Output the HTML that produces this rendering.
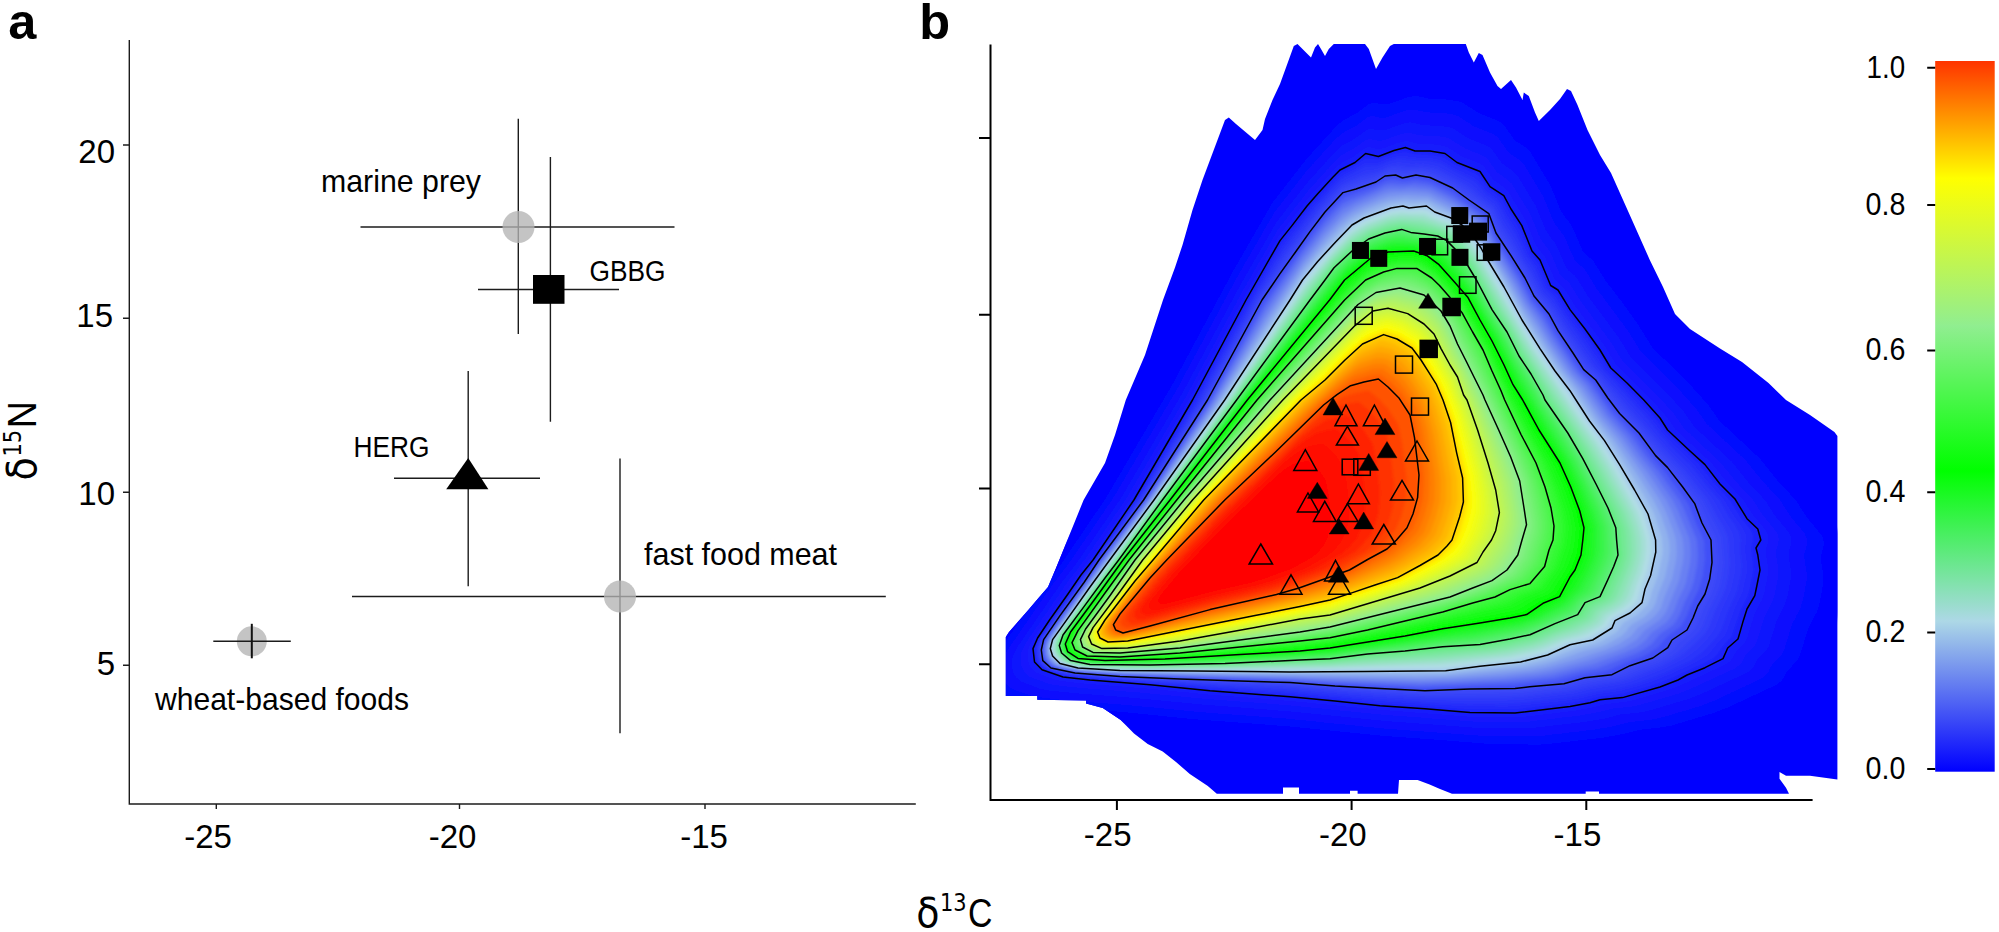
<!DOCTYPE html>
<html><head><meta charset="utf-8"><title>Figure</title>
<style>
html,body{margin:0;padding:0;background:#fff;}
body{width:1999px;height:932px;overflow:hidden;}
svg{display:block;}
text{font-family:"Liberation Sans",sans-serif;fill:#000;}
.t{font-size:33px;}
.cb{font-size:31.5px;}
.lab{font-size:31.5px;}
.cap{font-size:29.8px;}
.ax{font-size:40px;}
.sup{font-size:24px;font-family:"DejaVu Sans","Liberation Sans",sans-serif;}
.gk{font-size:41.5px;font-family:"DejaVu Sans","Liberation Sans",sans-serif;}
.pl{font-size:50.5px;font-weight:bold;}
</style></head>
<body>
<svg width="1999" height="932" viewBox="0 0 1999 932">
<defs>
<clipPath id="clipb"><path d="M1005.8 696L1005.8 637L1009 632L1019.5 620L1030 608L1037.6 599L1048 587L1055.6 569L1059.3 560L1083.6 500L1105 463L1115 435L1125.8 400L1145 355L1163 300L1175 267.5L1182.5 245L1192.5 210L1202.5 180L1210 160L1217.5 140L1225 120L1228.8 117.5L1236 124L1255 140L1262.5 130L1265 119L1272.5 100L1280 84L1286 67.5L1293.8 46L1297.5 44L1301 47.5L1311 57.5L1315 47.5L1318 44L1321 49L1325 56L1328.8 49L1333.8 44L1365 44L1368.8 49L1376 69L1382.5 57.5L1390 46L1393.8 44L1465.8 44L1468.8 52.5L1473.8 62.5L1478.8 53L1482.5 55L1490 72.5L1497.5 86L1501 89L1511 80L1516 87.5L1522.5 100L1523.8 92.5L1528.8 96L1535 112.5L1538.8 121L1550 110L1560 99L1567 89L1571 91L1577.5 105L1587.5 130L1600 155L1611 173L1632 220L1649.8 260L1663 287L1675 314L1690 329L1720 348.6L1742 362L1768.5 383L1786 400L1810 415L1834.4 432L1837.4 436L1837.4 779.4L1810 775.7L1786 775.7L1779.5 772L1779.5 778.7L1786 787.7L1789 793.7L1599 793.7L1599 791.4L1585.7 791.4L1585.7 793.7L1452 793.7L1440 789L1429.6 784.5L1417.6 780L1399 780L1398 793.7L1357.6 793.7L1357.6 790.7L1350 790.7L1350 793.7L1299 793.7L1299 787.5L1283 787.5L1283 793.7L1216.8 793.7L1207.8 786L1189.8 774L1176 762L1162.7 751.6L1147.7 744L1134 733.6L1120.7 720L1102.7 708L1086 703.6L1086 700.6L1037.3 699.8L1037.3 696Z"/></clipPath>
<filter id="bl" x="-5%" y="-5%" width="110%" height="110%"><feGaussianBlur stdDeviation="1.6"/></filter>
<linearGradient id="cbg" x1="0" y1="0" x2="0" y2="1"><stop offset="0.000" stop-color="#ff3400"/><stop offset="0.165" stop-color="#ffff00"/><stop offset="0.373" stop-color="#90ee90"/><stop offset="0.577" stop-color="#00ff00"/><stop offset="0.788" stop-color="#add8e6"/><stop offset="1.000" stop-color="#0000ff"/></linearGradient>
</defs>
<rect width="1999" height="932" fill="#fff"/>

<!-- panel a -->
<text class="pl" x="8.2" y="38.8">a</text>
<g stroke="#1c1c1c" stroke-width="1.4" fill="none">
<path d="M129.3 40V804H915.8"/>
<path d="M123 145H129.3M123 318.3H129.3M123 492.2H129.3M123 665.3H129.3"/>
<path d="M216.3 804V809M459.5 804V809M705 804V809"/>
<path d="M518.3 118.8V334M360.5 227H674.5"/>
<path d="M550.4 157V421.8M478 289.5H619"/>
<path d="M468.2 371V586.3M394 478.3H540"/>
<path d="M620 458.5V733.3M352 596.5H885.8"/>
</g>
<circle cx="518.5" cy="227" r="16" fill="#b4b4b4" fill-opacity="0.78"/>
<circle cx="620" cy="596.5" r="16" fill="#b4b4b4" fill-opacity="0.78"/>
<circle cx="251.8" cy="641.3" r="15" fill="#b4b4b4" fill-opacity="0.78"/>
<path d="M213.3 641.3H290.8" stroke="#1c1c1c" stroke-width="1.4" fill="none"/>
<path d="M251.8 623.8V658.3" stroke="#111" stroke-width="2" fill="none"/>
<rect x="533" y="275" width="31.5" height="28.8" fill="#000"/>
<path d="M468.2 458L488.4 489.3H446.2Z" fill="#000"/>
<g class="t" text-anchor="end">
<text x="115" y="163.3">20</text>
<text x="113" y="327">15</text>
<text x="115" y="505">10</text>
<text x="115" y="675">5</text>
</g>
<g class="t" text-anchor="middle">
<text x="208" y="847.5">-25</text>
<text x="452.5" y="847.5">-20</text>
<text x="704" y="847.5">-15</text>
</g>
<g class="lab">
<text x="321" y="192.3" textLength="160" lengthAdjust="spacingAndGlyphs">marine prey</text>
<text class="cap" x="589.5" y="281" textLength="76" lengthAdjust="spacingAndGlyphs">GBBG</text>
<text class="cap" x="353.5" y="457.3" textLength="76" lengthAdjust="spacingAndGlyphs">HERG</text>
<text x="644" y="564.5" textLength="193" lengthAdjust="spacingAndGlyphs">fast food meat</text>
<text x="155" y="709.5" textLength="254" lengthAdjust="spacingAndGlyphs">wheat-based foods</text>
</g>
<text class="ax"><tspan class="gk" x="916.2" y="926.5" textLength="23.2" lengthAdjust="spacingAndGlyphs">δ</tspan><tspan class="sup" x="940" y="911" textLength="26.7" lengthAdjust="spacingAndGlyphs">13</tspan><tspan x="968" y="926.5" textLength="24.4" lengthAdjust="spacingAndGlyphs">C</tspan></text>
<text class="ax" transform="translate(36 0) rotate(-90)"><tspan class="gk" x="-480.6" y="0" textLength="23.2" lengthAdjust="spacingAndGlyphs">δ</tspan><tspan class="sup" x="-456.5" y="-15.3" textLength="26.7" lengthAdjust="spacingAndGlyphs">15</tspan><tspan x="-428.2" y="0" textLength="27.2" lengthAdjust="spacingAndGlyphs">N</tspan></text>

<!-- panel b -->
<text class="pl" x="919.2" y="38.7">b</text>
<path d="M1005.8 696L1005.8 637L1009 632L1019.5 620L1030 608L1037.6 599L1048 587L1055.6 569L1059.3 560L1083.6 500L1105 463L1115 435L1125.8 400L1145 355L1163 300L1175 267.5L1182.5 245L1192.5 210L1202.5 180L1210 160L1217.5 140L1225 120L1228.8 117.5L1236 124L1255 140L1262.5 130L1265 119L1272.5 100L1280 84L1286 67.5L1293.8 46L1297.5 44L1301 47.5L1311 57.5L1315 47.5L1318 44L1321 49L1325 56L1328.8 49L1333.8 44L1365 44L1368.8 49L1376 69L1382.5 57.5L1390 46L1393.8 44L1465.8 44L1468.8 52.5L1473.8 62.5L1478.8 53L1482.5 55L1490 72.5L1497.5 86L1501 89L1511 80L1516 87.5L1522.5 100L1523.8 92.5L1528.8 96L1535 112.5L1538.8 121L1550 110L1560 99L1567 89L1571 91L1577.5 105L1587.5 130L1600 155L1611 173L1632 220L1649.8 260L1663 287L1675 314L1690 329L1720 348.6L1742 362L1768.5 383L1786 400L1810 415L1834.4 432L1837.4 436L1837.4 779.4L1810 775.7L1786 775.7L1779.5 772L1779.5 778.7L1786 787.7L1789 793.7L1599 793.7L1599 791.4L1585.7 791.4L1585.7 793.7L1452 793.7L1440 789L1429.6 784.5L1417.6 780L1399 780L1398 793.7L1357.6 793.7L1357.6 790.7L1350 790.7L1350 793.7L1299 793.7L1299 787.5L1283 787.5L1283 793.7L1216.8 793.7L1207.8 786L1189.8 774L1176 762L1162.7 751.6L1147.7 744L1134 733.6L1120.7 720L1102.7 708L1086 703.6L1086 700.6L1037.3 699.8L1037.3 696Z" fill="#0000ff"/>
<g clip-path="url(#clipb)"><g filter="url(#bl)">
<path d="M1816.4 500L1827.3 517.4L1842.7 535.9L1844.9 540.5L1845.7 545.1L1845.2 549.6L1842.5 558.4L1842.5 562.9L1845 577L1845.3 586.2L1841 608.6L1838.1 617.3L1829.6 633.9L1820.1 664L1817.6 667.9L1807.5 678.5L1803.3 686.4L1800.3 690L1796.2 693.1L1780.8 700.7L1759.8 709.6L1745.9 716.5L1731.2 722.4L1686.1 735.7L1675.8 737.6L1654.4 740L1637.1 744.3L1615.5 748.2L1555.8 755.2L1548.3 755.6L1495.5 754.9L1444.2 750.6L1389.3 746.9L1284.1 736.4L1187 728.9L1115.8 721.8L1043.2 716.1L1014.3 712.9L1005.2 710.9L988.6 705.1L984.9 703.3L979.3 698.4L977.1 695.6L975.6 692.4L974.1 681.4L974.6 677.2L976 672.6L981.2 662.6L994.7 642.3L1030.1 591.7L1048.6 567.6L1095.9 498L1164.9 380.1L1228.6 261.1L1269.7 189.6L1305.1 144.1L1336.8 109.2L1343.9 103.3L1358.3 95.6L1369.8 87L1373.6 85.4L1377.3 85.3L1384.4 86.9L1388 87L1391.8 86.3L1411.8 79.3L1419.7 77.8L1423.5 78.2L1434.5 81L1453.9 81.8L1465.2 83.9L1468.8 85.3L1485.1 96L1506.2 104.3L1509.4 106.4L1512.2 109.2L1522 123.1L1524.8 125.7L1534.1 131.8L1539.5 137.1L1560.2 171.3L1570.8 197.2L1574.5 203.4L1578.9 208.5L1582.8 214.2L1594.2 240.4L1596.2 242.9L1603.8 249.1L1605.8 251.6L1617.8 271L1635.4 294L1652.3 317.6L1666 339.7L1670.5 344.8L1689 362.2L1710 383.8L1725.6 401.4L1736.7 417.2L1778.9 456.8L1797.3 479.6Z" fill="#0303ff"/>
<path d="M1796.1 500L1806.6 516.6L1821.4 534.4L1823.5 538.8L1824.2 543.2L1823.7 547.5L1821.1 556L1821.2 560.3L1823.5 573.8L1823.8 582.6L1819.7 604.1L1816.9 612.4L1808.7 628.3L1799.6 657.1L1797.3 660.9L1787.6 671.1L1783.6 678.7L1780.7 682.1L1776.7 685L1728.6 707.5L1714.5 713.1L1671.3 725.9L1661.4 727.7L1640.9 730L1624.3 734.1L1603.6 737.9L1546.4 744.6L1539.2 744.9L1488.6 744.3L1439.4 740.2L1386.8 736.6L1286 726.5L1192.9 719.4L1124.7 712.6L1055.2 707.1L1027.5 704.1L1018.8 702.1L1002.8 696.6L999.3 694.8L993.9 690.2L990.3 684.4L988.9 673.8L989.4 669.8L990.8 665.4L995.8 655.9L1008.7 636.4L1042.6 587.9L1060.3 564.7L1105.6 498L1171.8 385.1L1232.8 271.1L1272.2 202.5L1306.1 158.9L1336.5 125.5L1343.3 119.9L1357.1 112.5L1368.1 104.2L1371.8 102.7L1375.3 102.5L1382.1 104.1L1385.6 104.2L1389.2 103.6L1408.4 96.8L1416 95.4L1430.1 98.5L1448.7 99.3L1459.6 101.2L1463 102.6L1478.6 112.8L1498.8 120.8L1501.9 122.8L1504.6 125.5L1514 138.8L1516.7 141.3L1525.6 147.1L1530.8 152.2L1550.6 185L1560.8 209.9L1564.3 215.8L1568.6 220.7L1572.3 226.2L1583.2 251.2L1585.1 253.6L1592.4 259.5L1594.3 262L1605.8 280.6L1622.7 302.6L1638.9 325.2L1652 346.4L1656.3 351.3L1674 367.9L1694.2 388.7L1709.1 405.5L1719.8 420.7L1760.2 458.6L1777.8 480.4Z" fill="#0608fe"/>
<path d="M1779.9 500L1790 516.1L1804.3 533.2L1806.3 537.5L1807 541.7L1806.5 545.9L1804 554L1804.1 558.2L1806.4 571.2L1806.7 579.8L1802.7 600.5L1800 608.5L1792.1 623.8L1783.3 651.7L1781 655.3L1771.7 665.1L1767.8 672.4L1765 675.8L1761.2 678.6L1714.7 700.3L1701.1 705.7L1659.4 718L1649.8 719.8L1630 722L1614.1 726L1594.1 729.6L1538.8 736L1483.1 735.8L1384.8 728.4L1287.5 718.6L1197.7 711.7L1131.8 705.2L1064.8 699.9L1038 697L1029.6 695.1L1014.2 689.7L1010.8 688L1005.6 683.5L1002.2 678L1000.8 667.8L1001.3 663.9L1002.6 659.7L1007.4 650.4L1052.6 584.8L1069.7 562.5L1113.4 498.1L1177.3 389.1L1236.2 279L1274.2 212.9L1307 170.8L1336.3 138.5L1342.8 133.1L1356.2 125.9L1366.8 118L1370.3 116.5L1373.7 116.4L1380.3 117.9L1383.7 118L1387.2 117.3L1405.6 110.8L1413 109.5L1426.6 112.4L1444.6 113.2L1455.1 115.1L1458.4 116.4L1473.5 126.3L1493 134L1495.9 135.9L1498.6 138.5L1507.6 151.4L1510.2 153.8L1518.8 159.4L1523.8 164.3L1542.9 195.9L1552.8 219.9L1556.1 225.7L1563.8 235.7L1574.4 259.9L1576.2 262.2L1583.3 267.9L1585.1 270.3L1596.2 288.2L1628.1 331.3L1640.8 351.8L1681.5 392.5L1695.9 408.8L1706.2 423.5L1745.2 460L1762.3 481.1Z" fill="#0a0cfe"/>
<path d="M1765.7 500L1775.5 515.6L1789.3 532.1L1791.3 536.3L1792 540.4L1791.5 544.4L1789.1 552.3L1789.1 556.4L1791.3 568.9L1791.6 577.2L1787.8 597.3L1785.1 605.1L1777.5 619.9L1769 646.9L1766.8 650.4L1757.7 659.9L1754 667L1751.3 670.2L1747.6 673L1702.6 694L1689.4 699.2L1649 711.2L1639.8 712.9L1620.6 715L1605.1 718.9L1585.8 722.3L1532.3 728.6L1478.3 728.4L1383.1 721.2L1288.8 711.7L1201.9 705.1L1138.1 698.7L1073.1 693.6L1047.2 690.7L1039.1 688.9L1020.9 682.1L1015.8 677.7L1012.5 672.4L1011.1 662.5L1011.7 658.7L1012.9 654.7L1017.6 645.7L1061.3 582.1L1077.9 560.5L1120.3 498.2L1182.1 392.6L1239.2 286L1275.9 221.9L1307.7 181.2L1336.1 149.9L1342.4 144.7L1355.3 137.7L1365.6 130L1369 128.6L1372.3 128.5L1378.7 130L1382 130L1385.4 129.4L1403.3 123.1L1410.4 121.8L1423.6 124.7L1441 125.4L1451.1 127.2L1454.3 128.5L1468.9 138L1487.8 145.5L1490.7 147.4L1493.2 149.9L1502 162.4L1512.8 170.2L1517.7 174.9L1536.2 205.5L1545.7 228.8L1549 234.3L1556.5 244L1566.7 267.4L1568.5 269.7L1575.3 275.2L1577.1 277.5L1587.9 294.9L1618.7 336.6L1631 356.4L1670.4 395.9L1684.4 411.6L1694.4 425.9L1732.1 461.3L1748.6 481.7Z" fill="#0e12fd"/>
<path d="M1753.5 500L1763.1 515.1L1776.5 531.2L1778.4 535.3L1779.1 539.3L1778.6 543.2L1776.3 550.8L1776.3 554.8L1778.5 567L1778.7 575.1L1775 594.6L1772.4 602.1L1765 616.6L1756.8 642.8L1754.6 646.2L1745.8 655.5L1742.1 662.3L1739.5 665.5L1736 668.2L1692.2 688.5L1679.4 693.7L1640.1 705.3L1631.1 707L1612.5 709L1597.5 712.7L1578.6 716.1L1526.6 722.2L1474.2 722L1381.6 715L1290 705.8L1205.4 699.3L1143.4 693.2L1080.3 688.2L1055.1 685.4L1047.2 683.7L1029.5 677L1024.6 672.8L1021.4 667.6L1020 657.9L1020.5 654.3L1021.8 650.3L1026.3 641.6L1068.8 579.8L1085 558.8L1126.1 498.2L1186.3 395.6L1241.7 292L1277.5 229.7L1308.3 190.1L1335.9 159.7L1342.1 154.6L1354.6 147.8L1364.6 140.4L1367.9 139L1371.2 138.8L1377.4 140.3L1380.5 140.4L1383.8 139.7L1401.2 133.6L1408.1 132.4L1421 135.1L1437.9 135.8L1447.7 137.6L1450.8 138.9L1465.1 148.1L1483.4 155.4L1486.2 157.2L1488.7 159.7L1497.2 171.8L1507.7 179.4L1512.5 183.9L1530.4 213.7L1539.7 236.3L1542.9 241.7L1550.2 251.2L1560.1 273.9L1561.8 276.1L1568.5 281.5L1570.2 283.7L1580.7 300.6L1610.7 341.2L1622.6 360.4L1660.9 398.8L1674.5 414.1L1684.2 427.9L1720.9 462.4L1736.9 482.2Z" fill="#1317fd"/>
<path d="M1743.4 500L1752.7 514.8L1765.8 530.5L1767.7 534.4L1768.3 538.4L1767.9 542.2L1765.6 549.6L1765.6 553.5L1767.7 565.4L1768 573.3L1764.4 592.3L1761.9 599.7L1754.6 613.8L1746.5 639.4L1744.5 642.7L1735.9 651.7L1732.3 658.5L1729.7 661.5L1726.2 664.1L1683.5 684L1671 689L1632.7 700.4L1623.9 702L1605.7 704L1591.1 707.7L1572.7 711L1521.9 716.9L1470.7 716.7L1380.4 709.8L1290.9 700.9L1208.4 694.6L1147.9 688.6L1086.3 683.7L1061.7 681L1054 679.3L1036.7 672.8L1031.9 668.7L1028.7 663.6L1027.5 654.2L1027.9 650.6L1029.1 646.7L1033.5 638.2L1075.1 577.9L1090.8 557.4L1131 498.3L1189.7 398.1L1243.8 297L1278.7 236.1L1308.8 197.5L1335.8 167.8L1341.8 162.8L1354 156.3L1363.8 149L1367 147.6L1370.2 147.5L1376.2 148.9L1379.3 149L1382.6 148.4L1399.5 142.4L1406.3 141.1L1418.8 143.9L1435.3 144.6L1444.9 146.3L1447.9 147.5L1461.8 156.6L1479.8 163.6L1482.5 165.4L1484.9 167.8L1493.2 179.7L1503.5 187L1508.1 191.5L1525.6 220.6L1534.7 242.7L1537.8 247.9L1544.9 257.1L1554.6 279.3L1564.5 288.9L1574.7 305.4L1604 345L1615.6 363.8L1653 401.2L1666.2 416.2L1675.7 429.7L1711.6 463.3L1727.2 482.7Z" fill="#181efc"/>
<path d="M1735.3 500L1744.4 514.5L1757.3 529.9L1759.1 533.8L1759.7 537.6L1759.3 541.3L1757 548.7L1757.1 552.4L1759.2 564.1L1759.4 571.9L1755.9 590.5L1753.4 597.7L1746.3 611.5L1738.4 636.6L1736.3 639.9L1727.9 648.8L1724.4 655.4L1721.9 658.3L1718.5 660.9L1676.6 680.4L1664.3 685.3L1626.8 696.4L1618.1 698L1600.3 700L1585.9 703.6L1567.9 706.8L1518.1 712.7L1467.9 712.4L1379.4 705.7L1291.7 697L1210.8 690.8L1066.9 677.4L1059.4 675.8L1042.5 669.4L1037.7 665.3L1034.6 660.4L1033.4 651.1L1033.9 647.6L1035 643.9L1039.4 635.5L1080.1 576.4L1095.5 556.3L1134.9 498.3L1192.4 400.1L1245.5 300.9L1279.7 241.3L1309.3 203.4L1335.7 174.3L1341.5 169.5L1353.6 163L1363.1 155.9L1366.3 154.5L1369.4 154.4L1375.3 155.8L1378.4 155.8L1381.5 155.3L1398.2 149.4L1404.8 148.2L1417.1 150.9L1433.2 151.5L1442.7 153.2L1445.6 154.4L1459.2 163.3L1476.8 170.2L1479.5 172L1481.8 174.4L1490 185.9L1500.1 193.2L1504.6 197.6L1521.8 226.1L1530.7 247.7L1533.7 252.9L1540.7 261.9L1550.2 283.7L1559.9 293L1569.9 309.2L1598.6 348L1610 366.5L1646.7 403.2L1659.6 417.8L1669 431L1704.1 464L1719.4 483Z" fill="#1d23fb"/>
<path d="M1729.9 500L1741.2 518L1750.6 529.4L1752.4 533.2L1753.2 537L1753.1 540.7L1751.3 548L1753.2 563.3L1753.5 570.9L1750 589.3L1747.6 596.4L1740.7 610L1732.5 634.7L1730.5 637.9L1722.4 646.7L1718.5 653L1715.9 655.9L1712.6 658.5L1704.7 662.9L1672.2 678.1L1660 682.9L1643.5 688.3L1623 693.9L1597.1 697.6L1582.9 701.1L1568.4 703.6L1515.5 709.7L1466.1 709.6L1378.9 703.5L1290.3 695.1L1211.6 689.4L1072 677.3L1060.2 675.2L1046.2 670.5L1040.7 667L1036.8 662.5L1035.6 659.9L1034.5 650.6L1035 647.1L1036.2 643.3L1040.6 634.9L1081.3 576L1096.5 556.1L1136.1 498.3L1193.7 401L1247.5 300.9L1280.3 244.5L1309.5 206.7L1335.6 177.7L1341.4 172.7L1353.3 166.4L1362.8 159.8L1365.9 158.5L1368.9 158.3L1377.9 159.1L1394.2 153.5L1404 151.7L1416.3 154L1432.3 154.7L1441.6 156.5L1444.5 157.7L1455.3 164.8L1475.3 173.6L1478 175.3L1488.7 188.6L1498.6 195.8L1503 200.4L1509.6 212.6L1519.9 228.9L1530.4 252.6L1538.8 264L1548.3 285.4L1557.8 294.9L1567.8 310.8L1596 349.5L1607.6 367.6L1636.8 397.4L1654 416.2L1665.5 431.7L1699.5 464.4L1714.6 483.2Z" fill="#2129fb"/>
<path d="M1724.5 500L1732.9 514.1L1741.3 525.2L1745.7 532.7L1746.8 540.1L1745.6 547.3L1745.7 551L1747.6 566.1L1747 573.5L1743.2 591.6L1735.1 608.6L1726.7 632.7L1724.8 635.9L1716.8 644.6L1709.9 653.5L1706.7 656.1L1695.6 662.8L1671.6 674.1L1655.7 680.5L1635.6 687.3L1619.2 691.4L1597.7 694.5L1579.8 698.7L1565.4 701L1528.3 705.3L1506.7 706.9L1461.6 706.6L1380.2 701.5L1290.7 693.3L1210.3 688L1072.8 676.7L1061.1 674.6L1047 670.1L1041.5 666.6L1037.7 662L1036.5 659.3L1035.6 653.2L1036.1 646.5L1037.4 642.7L1041.9 634.3L1053.2 617.5L1082.6 575.6L1097.4 555.8L1137.3 498.3L1195 401.9L1248.4 303L1281 247.8L1309.7 210.1L1335.6 181L1344.2 174.1L1353.1 169.8L1362.4 163.8L1365.5 162.5L1377.4 162.5L1390.4 157.6L1400.1 155.3L1403.3 155.2L1412.4 157L1431.4 157.8L1440.5 159.8L1443.4 161L1454.2 167.8L1473.8 176.9L1478.8 180.9L1487.3 191.2L1497.2 198.4L1501.3 203.3L1507.7 215.5L1517.9 231.7L1528.7 254.7L1536.9 266.2L1546.5 287.2L1555.8 296.7L1567.2 314.7L1587.3 342.3L1605.2 368.8L1621.2 385.3L1650.4 417.1L1664.5 435L1694.9 464.9L1709.8 483.4Z" fill="#262efa"/>
<path d="M1719.1 500L1729.3 517.4L1734.8 524.8L1739 532.2L1740.5 539.5L1739.9 550.3L1741.6 565.2L1741.1 572.5L1737.3 590.3L1728.1 610.4L1720.8 630.8L1716.7 636.9L1703.9 651.1L1690.5 660.5L1663.3 673.5L1635.8 683.8L1623.8 687.1L1611.2 689.7L1594.3 692.1L1573 696.8L1525.6 702.5L1507.2 703.8L1467.6 704L1433.3 702.7L1377.8 699.2L1289.3 691.4L1211.1 686.7L1112.2 679.6L1073.7 676.2L1062 674.1L1047.7 669.6L1044.7 668L1040.2 664L1037.5 658.8L1036.6 649.5L1038.5 642.2L1040.6 638L1054.5 616.9L1138.5 498.3L1197 401.6L1256.4 292.3L1283.4 248.4L1314.7 207.7L1330 190.2L1341.2 179.1L1365 166.5L1377 165.8L1393.1 159.8L1399.4 158.7L1411.6 160.3L1424.2 160.3L1430.4 161L1439.5 163.1L1445.1 165.7L1453.1 170.7L1472.4 180.3L1477.3 184.1L1486 193.9L1495.7 201L1499.6 206.2L1505.9 218.5L1515.9 234.4L1526.9 256.8L1535 268.3L1544.7 289L1553.8 298.5L1565.1 316.3L1599.4 365.7L1646.8 418.1L1661 435.7L1675.9 451.4L1690.3 465.3L1705 483.6Z" fill="#2a34fa"/>
<path d="M1713.7 500L1723.3 517.2L1732.3 531.7L1734.2 538.9L1734.2 549.6L1735.7 564.3L1735.1 571.4L1731.5 589L1721.1 612.1L1715 628.8L1711 634.9L1700.7 646L1695 651.2L1685.5 658.3L1662.8 669.6L1632 681.5L1624.3 683.9L1591 689.6L1573.6 693.7L1526 699.5L1501.6 700.9L1463.1 701.1L1429.8 700.2L1377.3 697L1289.7 689.6L1214.1 685.5L1120 679.4L1074.6 675.6L1062.9 673.5L1048.4 669.2L1045.5 667.6L1041 663.5L1038.4 658.3L1037.7 648.9L1039.7 641.6L1041.8 637.5L1055.8 616.4L1139.8 498.3L1198.3 402.5L1257.2 294.4L1284 251.7L1307.9 219.6L1317.3 208.1L1330 193.5L1341.1 182.3L1346.8 179L1364.6 170.5L1376.5 169.1L1386.1 164.9L1392.5 162.9L1398.8 162.1L1410.8 163.6L1423.4 163.3L1432.5 164.7L1438.4 166.3L1470.9 183.6L1475.8 187.4L1484.6 196.5L1494.3 203.7L1498 209L1504 221.5L1514 237.2L1525.2 258.9L1533.1 270.5L1542.9 290.8L1550.1 298.3L1554.8 304.6L1565.9 322.3L1595.2 364.9L1645.3 421.4L1657.5 436.3L1671.7 452L1688.3 468.7Z" fill="#2f39f9"/>
<path d="M1708.3 500L1717.3 516.9L1723.8 527.5L1727 534.7L1728 538.3L1729.7 563.3L1728 577.4L1725.7 587.7L1723.2 594.4L1715.3 610.5L1709.1 626.8L1705.4 632.9L1702.9 635.7L1686.4 651.3L1680.4 656L1662.4 665.7L1628.2 679.2L1620.6 681.6L1591.4 686.4L1570.5 691.3L1523.3 696.7L1499 697.9L1428.6 697.8L1376.8 694.8L1288.4 687.8L1214.9 684.2L1120.8 678.7L1075.4 675L1063.7 672.9L1049.1 668.8L1046.3 667.1L1041.9 663L1039.4 657.8L1038.8 648.4L1040.8 641L1043 636.9L1054.3 619.9L1088.4 571.6L1141 498.4L1202.5 398.6L1259.2 294.4L1284.6 255L1317.4 211.4L1327.4 199.6L1341 185.6L1346.7 182.2L1361.2 175.7L1367.2 173.9L1376 172.4L1388.8 166.8L1398.1 165.4L1406.9 166.9L1422.5 166.4L1431.5 167.9L1437.4 169.6L1459 180.8L1469.4 187L1474.2 190.7L1483.3 199.1L1492.8 206.3L1496.3 211.9L1502.1 224.5L1512 240L1523.5 261L1531.2 272.6L1541.1 292.6L1548.1 300.1L1554.3 308.4L1563.7 323.9L1591 364.1L1603.8 378.1L1629 408.6L1643.8 424.7L1665.1 449.9L1683.6 469.1Z" fill="#333ff9"/>
<path d="M1702.9 500L1718.9 530.6L1721.7 537.7L1723.8 562.4L1722.2 576.2L1719.9 586.4L1716.1 596.3L1709.6 608.9L1703.2 624.9L1699.8 630.9L1697.4 633.7L1678.3 651.5L1672.1 655.9L1658 663.5L1638.3 670.9L1624.4 676.9L1617 679.3L1591.6 683.2L1567.4 688.8L1520.6 693.9L1496.4 694.8L1425.3 695.4L1374.4 692.5L1288.8 686L1121.6 678L1076.3 674.4L1064.6 672.3L1049.9 668.3L1047 666.7L1042.7 662.6L1040.3 657.3L1039.9 647.8L1042 640.5L1044.2 636.3L1095.4 562.9L1142.2 498.4L1204.5 398.4L1260 296.6L1285.2 258.2L1308.5 226.3L1322.4 208.7L1340.9 188.8L1346.5 185.3L1363.8 178.6L1375.6 175.7L1388.2 169.8L1394.4 168.8L1406.1 170.4L1418.6 169.3L1427.6 170.4L1436.3 172.9L1455.1 182.3L1467.9 190.3L1491.3 208.9L1493.2 211.6L1500.3 227.5L1527.9 272.3L1537.8 292.2L1552.3 310.1L1562.8 327.7L1588.3 365.5L1601.4 379.2L1625.5 409.7L1642.4 427.9L1663.3 453.2L1679 469.5Z" fill="#3844f8"/>
<path d="M1697.5 500L1701.2 506.5L1706.9 519.8L1715.4 537.1L1716.9 544.1L1717.8 561.4L1715.7 578.5L1713 588.4L1710.5 594.9L1703.9 607.2L1697.4 622.9L1694.2 629L1691.9 631.7L1680 641.4L1673 649.2L1667.2 653.7L1660.8 657.8L1653.6 661.3L1637.6 667L1620.6 674.6L1613.3 677L1588 680.6L1564.3 686.4L1517.8 691.2L1424.2 693L1336.6 688L1289.1 684.3L1122.4 677.3L1077.1 673.8L1065.5 671.8L1050.6 667.9L1047.8 666.2L1043.5 662.1L1041.2 656.8L1041 647.3L1041.7 643.8L1045.4 635.7L1098.3 559.9L1143.4 498.4L1205.8 399.5L1260.7 298.8L1285.8 261.5L1308.7 229.7L1322.5 211.9L1340.8 192L1346.3 188.5L1375.1 179L1387.7 172.9L1396.7 172.2L1405.3 173.8L1417.8 172.4L1426.7 173.6L1432.5 175.1L1456.5 186.9L1487.8 209.4L1489.9 211.6L1491.6 214.3L1498.4 230.5L1526 274.5L1536 294L1550.4 311.8L1560.6 329.4L1585.7 366.9L1598.9 380.3L1621.9 410.8L1641.1 431L1659 453.8L1674.3 469.9Z" fill="#3c4af8"/>
<path d="M1692.1 500L1695.7 506.4L1702.1 522.8L1709.2 536.5L1711.2 543.4L1711.8 560.5L1711.3 567.2L1709.1 580.6L1704.9 593.5L1698.2 605.6L1688.5 627L1683.7 632.2L1674 639L1665.3 649.3L1652.9 657.5L1629.6 666.1L1616.8 672.3L1609.7 674.8L1584.3 678.1L1561.2 683.9L1515.1 688.4L1469.9 689L1423 690.7L1336.5 686.1L1289.5 682.5L1123.2 676.6L1078 673.2L1058.6 669.6L1051.3 667.5L1048.5 665.8L1044.3 661.6L1042.2 656.3L1042 646.7L1042.8 643.2L1046.6 635.2L1084.1 582.3L1099.3 559.7L1144.6 498.4L1207.1 400.5L1262.7 299L1306.9 235.9L1325 212.2L1340.6 195.2L1343.4 193.1L1346.2 191.7L1371.7 183.5L1387.1 176L1393.1 175.3L1404.5 177.3L1417 175.4L1425.8 176.7L1431.4 178.3L1452.8 188.3L1486.4 211.9L1490.1 217L1496.6 233.5L1524.1 276.7L1534.1 295.9L1548.4 313.5L1558.4 331L1583 368.3L1596.5 381.3L1608.4 398.7L1618.4 411.8L1639.8 434.2L1654.8 454.3L1669.7 470.3Z" fill="#414ff7"/>
<path d="M1685.6 500L1689.2 506.3L1695.5 522.4L1703.4 539.2L1704.1 542.6L1704.8 559.4L1702.7 575.8L1699.1 588.6L1691.5 603.7L1686.6 615.9L1681.9 624.6L1679.7 627.3L1667.4 636.3L1658.7 646.4L1650 652.6L1643.2 656.1L1624.1 663L1611 668.9L1604.1 671.3L1580 675.1L1557.4 680.8L1515.2 685.2L1421.8 688.2L1336.4 684.3L1289.8 681.2L1124.1 675.9L1078.9 672.6L1059.5 669L1052.3 666.8L1049.6 665.2L1045.5 661L1043.3 655.7L1042.9 649.5L1043.3 646.1L1044.2 642.5L1048.3 634.3L1100.9 559.2L1145.9 498.4L1208.5 401.6L1263.9 302.5L1307.3 240.3L1325.1 217.3L1337.8 203.4L1343.2 198.4L1345.9 196.9L1374.1 186.5L1386.3 180.4L1392.3 179.6L1403.6 181L1415.9 179.4L1430.3 181.8L1451.5 191.6L1484.7 215L1488.4 220.1L1493.6 233.1L1496.5 238.6L1522.2 278.9L1532.1 297.9L1545.9 315.6L1555.9 332.9L1578.9 367.7L1581.9 371.6L1593.3 382.8L1605 399.9L1614.8 412.9L1635.4 435.1L1650 455L1664.1 470.8Z" fill="#4e5ff5"/>
<path d="M1679.1 500L1682.6 506.2L1696.3 538.5L1697.1 541.8L1697.8 555L1697.2 564.7L1694 580.7L1690.9 590L1684.8 601.7L1680.2 613.8L1675.3 622.3L1673.1 624.9L1660.7 633.6L1658.1 635.9L1652.2 643.4L1643.7 649.6L1637.1 653.1L1598.5 667.8L1579.2 671.3L1553.5 677.8L1512.3 682.3L1420.6 685.8L1336.4 682.5L1290.1 679.9L1125 675.1L1079.7 672L1060.4 668.5L1053.4 666.2L1050.7 664.5L1046.6 660.3L1044.4 655.1L1044.1 648.8L1044.6 645.4L1045.7 641.7L1050.1 633.5L1102.6 558.8L1147.2 498.4L1210.6 401.6L1265.1 306L1301.8 252.6L1325.2 222.3L1337.6 208.7L1342.9 203.8L1351 199.7L1373.5 190.7L1385.6 184.9L1391.4 183.9L1402.8 184.7L1414.8 183.4L1426.4 184.7L1432 186.2L1452.7 196.4L1469.4 207.8L1483.1 218.1L1486.7 223.1L1494.9 241.1L1518.8 278.9L1530.1 299.9L1543.4 317.7L1554.6 336.8L1576.2 369.1L1579.2 373L1590.2 384.2L1611.1 414L1631.1 436L1645.2 455.7L1658.6 471.3Z" fill="#5b70f4"/>
<path d="M1672.6 500L1677.4 509.1L1689.2 537.8L1690.3 544.2L1690.8 553.9L1690.1 563.5L1686.1 582.2L1683.9 588.2L1678.2 599.8L1673.8 611.7L1670.5 617.3L1666.4 622.4L1651.4 633.1L1645.6 640.5L1637.5 646.7L1624 653.1L1593 664.3L1574.7 668.2L1552.9 674.1L1536.7 676.5L1503.7 679.8L1453.1 682.4L1419.4 683.3L1336.3 680.7L1290.4 678.6L1125.9 674.3L1084.7 671.7L1072.6 670.3L1057.6 666.9L1054.4 665.6L1051.8 663.9L1047.8 659.7L1045.5 654.4L1045.3 648.2L1045.9 644.7L1047.2 641L1051.8 632.7L1104.2 558.4L1148.5 498.4L1211.2 403.8L1265.1 311.5L1302.3 256.8L1325.2 227.4L1342.7 209.1L1356.1 201.7L1384.8 189.4L1390.6 188.2L1401.9 188.4L1410.9 187.3L1425.3 188.4L1430.9 189.6L1448.9 198.2L1456.3 202.5L1470.3 212.3L1481.4 221.1L1485 226.1L1493.3 243.6L1516.9 281.2L1528 302L1541 319.8L1552.1 338.6L1573.5 370.5L1587 385.6L1607.5 415.2L1626.7 436.9L1640.5 456.4L1653 471.7Z" fill="#6980f2"/>
<path d="M1666.2 500L1672.3 512L1682.2 537L1683.3 543.4L1683.8 552.9L1683 562.2L1679 580.6L1665.9 612.4L1659.8 620L1644.7 630.4L1636.7 639.8L1625 647.1L1614.9 651.5L1587.4 660.8L1552 670.3L1536.4 673.2L1503.6 676.7L1451.5 680.1L1420.2 680.9L1123.3 673.5L1081.5 670.8L1073.5 669.8L1062.2 667.3L1055.4 665L1052.9 663.3L1048.9 659L1046.7 653.8L1046.4 647.6L1047.2 644.1L1048.6 640.3L1053.5 631.9L1105.9 558L1148.8 500L1163.5 478.1L1213.3 403.8L1266.3 315L1302.8 260.9L1323.1 235.1L1342.5 214.5L1355.7 206.1L1381.1 194.9L1386.9 193.1L1392.6 192.1L1409.8 191.3L1424.1 192.1L1429.8 193L1450.1 202.8L1457.4 207L1468.9 215.1L1479.8 224.2L1483.3 229.1L1491.8 246.1L1514.9 283.5L1526 304L1538.5 321.9L1549.6 340.5L1565.4 364.1L1572.2 373.9L1583.9 387L1603.9 416.3L1622.4 437.8L1635.7 457L1647.5 472.2Z" fill="#7690f1"/>
<path d="M1659.7 500L1665.8 511.7L1674.1 533.1L1675.9 539.4L1676.8 551.8L1675.9 561L1672 578.9L1664.8 596L1661 607.6L1659.5 610.2L1655.4 615.2L1650.4 619.8L1638 627.6L1630.3 636.8L1618.9 644.1L1605.7 649.7L1578.6 658.4L1548 667.2L1529.9 670.7L1500.8 673.8L1449.9 677.7L1420.9 678.4L1124.2 672.7L1078.2 669.8L1063.1 666.8L1056.4 664.4L1053.9 662.6L1050 658.4L1047.8 653.2L1047.6 647L1048.5 643.4L1050.1 639.6L1055.3 631L1107.5 557.5L1150.1 500L1213.2 407.1L1267.5 318.5L1303.2 265L1325.4 237.6L1339.7 222.2L1344.8 217.7L1352.7 212.1L1363.4 206.6L1380.3 199.4L1388.9 196.8L1406 195.1L1428.7 196.4L1456.1 210L1467.6 218L1478.1 227.2L1481.6 232.1L1491.7 251.1L1511.6 283.5L1523.9 306.1L1537.3 326.1L1548.4 344.2L1568.1 373.4L1580.7 388.4L1600.3 417.4L1618.1 438.8L1641.9 472.7Z" fill="#83a0ef"/>
<path d="M1653.2 500L1660.6 514.4L1667 532.5L1669.3 541.7L1669.8 550.8L1668.8 559.7L1664.9 577.3L1658.2 594.1L1655.7 602.7L1653.1 608.1L1648.8 612.9L1643.8 617.3L1631.3 624.8L1629.1 626.9L1625.9 631.7L1621.4 635.9L1606.9 644.2L1600.2 646.7L1582.3 651.6L1555.6 660.9L1544 664.2L1523.5 668.2L1446.1 675.4L1415.8 675.9L1336.1 675.2L1125.1 672L1079.1 669.2L1064 666.2L1057.5 663.8L1055 662L1051.2 657.8L1048.9 652.6L1048.8 646.4L1049.8 642.8L1054 634.6L1107.3 559.7L1151.4 500L1215.3 407.2L1268.7 322L1303.7 269.1L1317 252.4L1327.7 240.2L1339.5 227.5L1349.7 218.6L1354.9 215L1365.7 209.6L1379.6 203.8L1388.1 201.1L1405.1 198.9L1413.3 199.7L1427.6 199.8L1454.8 213L1466.2 220.8L1476.4 230.3L1479.9 235.1L1490 253.5L1508.4 283.6L1523.1 310.2L1544.6 344.1L1562.7 371L1577.5 389.8L1596.6 418.5L1613.7 439.7L1636.4 473.2Z" fill="#90b1ed"/>
<path d="M1646.7 500L1652.8 511.3L1655.3 517L1661.8 537.8L1662.8 549.7L1662.3 555.6L1657.9 575.7L1651.5 592.2L1649.3 600.7L1646.7 606L1637.1 614.8L1624.6 622L1622.3 624.1L1617.5 631L1615.1 632.9L1601.3 641.2L1594.7 643.7L1576.6 648.2L1551.4 657.9L1537.1 661.8L1520.2 665.3L1444.6 673.1L1290 673.3L1122.4 671.2L1079.9 668.7L1065 665.6L1058.5 663.1L1056.1 661.3L1052.3 657.1L1050 652L1050 645.8L1051.1 642.1L1055.6 633.8L1107.1 561.8L1152.7 500L1217.4 407.2L1271 323.7L1304.2 273.3L1317.3 257.1L1327.8 245.3L1341.8 230.5L1351.9 221.2L1365.2 213.7L1390.1 204.6L1404.1 202.7L1412.2 203.7L1423.7 202.9L1429 204L1436.1 208.4L1451.1 214.6L1455.8 217.3L1464.8 223.6L1474.8 233.4L1481.3 243.2L1505.2 283.6L1523.4 316.4L1542 346L1558.6 370.7L1574.4 391.2L1593 419.6L1609.4 440.6L1629.3 471.2Z" fill="#9ec1ec"/>
<path d="M1620.9 466.9L1646.4 511L1648.8 516.7L1654.7 537L1655.7 542.9L1655.8 548.7L1655.2 554.4L1650.8 574.1L1645.7 587.5L1642.9 598.7L1640.3 603.8L1630.5 612.3L1617.9 619.2L1615.5 621.2L1612.7 625.9L1608.8 630L1595.6 638.2L1589.2 640.7L1570.9 644.7L1547.2 655L1525.1 660.8L1516.8 662.4L1443 670.7L1290.3 672L1123.2 670.4L1080.8 668.1L1065.9 665.1L1059.5 662.5L1057.2 660.7L1053.5 656.5L1051.2 651.4L1051.2 645.1L1052.4 641.4L1057.3 633L1092 584.3L1154 500L1223.9 401.1L1304.6 277.4L1319.5 259.5L1351.6 225.7L1364.6 217.9L1392.1 207.9L1400.5 206.5L1411.1 207.6L1422.6 206.4L1427.9 207.3L1434.9 211.8L1449.8 217.7L1459.1 223.1L1463.4 226.5L1473.1 236.4L1481.2 248.4L1504.6 288.2L1522.4 320.6L1538.3 345.9L1554.6 370.3L1571.2 392.6L1589.4 420.7L1605 441.5Z" fill="#abd1ea"/>
<path d="M1616.9 467.3L1641.7 510.9L1644 516.5L1649.9 536.4L1650.9 548L1650 556.4L1647 570.3L1641.1 586.3L1637.1 599.8L1633.5 604.5L1628.7 608.7L1613.6 617.5L1611.3 619.4L1607 626.2L1604.7 628.1L1591.4 636.1L1585.1 638.5L1567.5 642.7L1546.7 651.7L1541.3 653.5L1513.9 659.9L1441.2 667.9L1290.6 670.5L1147.8 669.9L1116.9 669.5L1085.7 667.9L1074 666.3L1066.7 664.5L1060.5 661.9L1054.5 655.9L1052.3 650.8L1052.4 644.5L1053.7 640.8L1058.7 632.3L1093.4 583.8L1155 500L1224.8 401.9L1305 280.6L1317.7 265L1332.2 248.8L1351.3 229.2L1359 224.1L1366.9 220L1391.4 211L1402.4 209.5L1410.3 210.5L1421.5 209.7L1426.8 210.6L1433.9 214.6L1446.3 219.2L1453.4 222.7L1462.1 229.1L1469.9 236.9L1479.7 250.9L1501.5 288.2L1520.6 322.3L1534.9 345.6L1552.2 371.7L1568.2 393.9L1586.3 421.6L1601.5 442.3Z" fill="#b1dde5"/>
<path d="M1613 467.8L1638.2 513.5L1642.8 527.4L1645.6 538.7L1646 547.2L1644.9 558.4L1641.6 571.9L1636.5 585L1633.3 595.6L1630.8 600.7L1624.2 607.1L1609.3 615.7L1607.2 617.7L1602.9 624.4L1600.7 626.2L1587.2 633.9L1581 636.3L1564.1 640.7L1546 648.5L1538 651.2L1511 657.3L1439.3 665.1L1292.5 669.1L1148.5 669.2L1121.4 669L1090.6 667.6L1074.8 665.7L1067.6 664L1061.5 661.4L1055.5 655.3L1053.4 650.2L1053.7 643.8L1055.1 640.1L1060.1 631.7L1094.8 583.3L1156.1 500L1225.7 402.7L1305.4 283.8L1332.2 251.8L1351 232.6L1358.6 227.5L1366.4 223.2L1390.8 214.1L1401.7 212.4L1409.5 213.3L1423.2 213.2L1425.7 213.8L1432.8 217.4L1445.3 221.7L1452.3 225.2L1460.9 231.7L1468.5 239.5L1478.2 253.4L1532.7 347.2L1581.8 420.6L1597.9 443.1Z" fill="#a4dfd5"/>
<path d="M1607.6 465.9L1633.4 513.2L1638.1 527L1640.7 538.1L1641.2 549.3L1639.9 560.2L1637 570.9L1631.9 583.7L1628.5 594.1L1626.1 599.1L1619.8 605.5L1605 613.9L1603 615.9L1598.8 622.5L1593.9 625.9L1580.1 633L1560.8 638.7L1545.4 645.3L1534.8 648.8L1508 654.8L1437.5 662.3L1328.5 666.8L1218.5 668.4L1125.8 668.3L1083.2 666.5L1068.4 663.4L1062.4 660.8L1056.5 654.7L1054.5 649.6L1055 643.2L1056.4 639.4L1061.5 631L1157.1 500L1226.6 403.5L1305.7 287.1L1332.1 254.9L1350.8 236.1L1360.8 229.2L1368.6 225.1L1390.1 217.2L1401 215.4L1422.1 216.5L1424.7 217.1L1449 226.4L1457.6 232.5L1467.1 242.1L1476.7 255.8L1530.6 348.9L1578.7 421.6L1594.3 443.8Z" fill="#98e1c5"/>
<path d="M1603.7 466.4L1628.7 513L1633.4 526.5L1635.8 537.5L1636.4 548.5L1635.9 556.7L1633.2 567.2L1623.8 592.6L1621.4 597.5L1615.3 603.8L1600.7 612.1L1594.7 620.6L1589.9 624L1575.9 630.8L1557.4 636.6L1542.2 643.2L1534.3 645.8L1510.3 651.3L1494.8 653.7L1435.6 659.5L1328.6 665.2L1223.3 667.4L1143.7 667.8L1088 666.3L1076.5 664.6L1066.1 661.7L1063.4 660.2L1059.2 656.4L1056.3 651.7L1055.6 649L1056.2 642.5L1057.7 638.7L1062.9 630.3L1227.4 404.4L1306.1 290.3L1332.1 258L1350.5 239.6L1357.9 234.2L1368.2 228.2L1389.5 220.3L1400.2 218.4L1421 219.8L1440.8 225.9L1447.9 228.9L1452.3 231.7L1458.3 236.9L1465.7 244.7L1475.2 258.3L1528.4 350.5L1558 396.1L1592 446.7Z" fill="#8ce4b5"/>
<path d="M1599.7 466.9L1623.9 512.8L1629.5 528.8L1630.9 536.9L1631.6 550.5L1630.9 558.5L1628.7 566.2L1616.7 595.9L1613.3 600.3L1610.9 602.2L1601.5 606.9L1596.4 610.4L1590.6 618.8L1585.8 622L1571.8 628.6L1554 634.6L1539.1 641L1531.1 643.5L1507.3 648.8L1489.7 651.6L1433.8 656.7L1368.5 660.6L1330 663.5L1224 666.5L1144.4 667.1L1088.7 665.8L1077.3 664.1L1067 661.2L1060.2 655.8L1057.3 651.1L1056.7 648.4L1057.5 641.9L1059 638.1L1064.3 629.6L1228.3 405.2L1303.4 297.8L1311.4 287.2L1334.2 258.7L1350.2 243L1357.6 237.6L1367.8 231.3L1372.9 228.9L1388.8 223.4L1399.5 221.4L1404.6 221.5L1422.5 223.6L1439.7 228.4L1446.8 231.4L1451.1 234.2L1457.1 239.4L1464.4 247.3L1475.2 263.1L1497.9 303.5L1512.3 327L1526.2 352.1L1555 397.5L1588.4 447.4Z" fill="#7fe6a5"/>
<path d="M1595.8 467.4L1619.2 512.6L1624.9 528.4L1626.1 536.4L1626.9 552.3L1626.4 557.6L1623.2 567.7L1612 594.3L1608.8 598.7L1606.4 600.6L1596.9 605.2L1592.1 608.6L1586.5 616.9L1584.4 618.6L1567.6 626.3L1533.3 639.7L1506.8 645.7L1487.1 649.1L1409.4 655.8L1368 658.4L1328.6 662L1224.6 665.5L1148.4 666.4L1089.5 665.3L1074.5 662.8L1067.9 660.6L1061.2 655.2L1058.4 650.6L1057.8 647.8L1058.8 641.2L1060.4 637.4L1065.7 628.9L1229.2 406L1303.8 301L1318.6 281.5L1334.2 261.7L1352.4 244.5L1369.9 233L1388.1 226.5L1398.7 224.4L1403.9 224.3L1421.4 226.9L1438.7 230.9L1445.7 233.9L1450 236.7L1461.3 247.8L1473.7 265.6L1496 305.6L1510.5 328.7L1524.1 353.8L1535.7 371.4L1552 398.8L1574.7 432.1L1584.8 448.2Z" fill="#73e995"/>
<path d="M1588.4 461.4L1613.4 509.9L1620.2 527.9L1622.2 554.2L1621.3 559.3L1618.6 566.6L1606 595L1602 599L1589.8 605L1587.8 606.8L1582.4 615L1580.3 616.7L1530.1 637.5L1501.3 643.7L1479.7 647.1L1446.7 649.4L1406.5 653.5L1368.9 656.1L1330 660.3L1223.1 664.6L1149.2 665.7L1090.3 664.8L1075.3 662.2L1068.8 660.1L1062.1 654.6L1059.4 650L1058.9 647.2L1060 640.5L1061.7 636.7L1067.1 628.2L1231.5 404.9L1305.7 302.1L1332 267.3L1336.2 262.6L1349.7 249.9L1364.3 239.2L1372 234.9L1387.5 229.5L1398 227.4L1403.1 227.1L1437.7 233.5L1444.6 236.4L1448.8 239.2L1459.9 250.4L1472.2 268L1494.2 307.8L1508.7 330.4L1520.8 353.6L1534.5 374.7L1549.1 400.2L1570.3 431.1L1581.2 448.9Z" fill="#66eb85"/>
<path d="M1583.4 459.9L1608.7 509.7L1615.5 527.5L1617.7 553.3L1616.8 558.3L1614 565.6L1601.5 593.5L1597.5 597.4L1585.3 603.2L1583.5 605L1578.3 613.2L1576.3 614.8L1532.1 633.8L1527 635.4L1479.6 644.5L1442.6 646.8L1405.3 651L1367 654.1L1330 658.7L1223.7 663.6L1150 665L1091 664.3L1076.2 661.7L1069.7 659.5L1063.1 654.1L1060.5 649.4L1060 646.6L1061.3 639.9L1063 636L1068.5 627.6L1332 270.4L1336.1 265.7L1349.4 253.4L1366.5 240.6L1371.5 237.9L1386.8 232.6L1397.2 230.4L1402.4 229.9L1411.8 232.4L1436.7 236L1443.5 239L1447.7 241.8L1458.6 253L1467.9 265.9L1476 279.4L1491.2 307.9L1506.9 332.1L1518.7 355.2L1532.2 376.1L1546.1 401.5L1569.5 435.8Z" fill="#5aee75"/>
<path d="M1578.2 456.2L1605 509.6L1611.4 527.1L1613.2 552.5L1612.3 557.4L1609.8 564.6L1597.2 592L1593.5 595.9L1582.3 602L1576.4 609.7L1572.7 613.2L1526.7 632.6L1505.5 637.1L1477.2 642.1L1441.1 644.8L1404.4 649.2L1366.6 652.6L1330 657.3L1224.4 662.6L1150.7 664.3L1091.8 663.7L1076.8 661.3L1070.4 659.1L1063.8 653.7L1061.2 649L1060.8 646.2L1062.2 639.4L1064 635.5L1069.5 627L1164.4 498.6L1332 273.7L1336 269L1349.2 256.4L1366 243.6L1371.1 240.7L1386.3 235.3L1396.6 233L1401.6 232.7L1411.1 234.8L1435.6 238.6L1442.3 241.7L1446.4 244.5L1457.2 255.6L1466.5 268.3L1476 283.5L1489.8 309.5L1505.3 333.6L1516.9 356.6L1530 377.5L1543.8 402.6L1564.3 432.8Z" fill="#4ff066"/>
<path d="M1575.3 456.7L1601.2 509.5L1607.4 526.7L1608.8 551.7L1607.9 556.5L1605.5 563.6L1593 590.5L1589.5 594.4L1579.3 600.7L1573.1 608.2L1569.1 611.5L1541 624.3L1523.7 630.6L1474.8 639.8L1439.6 642.8L1403.5 647.5L1366.3 651.2L1330 656L1227.1 661.4L1151.5 663.6L1092.6 663.2L1077.4 660.9L1071 658.7L1064.4 653.4L1061.9 648.6L1061.6 645.7L1063.2 638.9L1065 635L1070.6 626.5L1165.4 498.6L1331.9 277.1L1336 272.3L1348.9 259.4L1365.6 246.6L1373.1 242.5L1385.7 238L1395.9 235.7L1400.9 235.4L1420.1 238.2L1434.6 241.2L1441.1 244.4L1445.2 247.3L1455.8 258.3L1465.1 270.6L1474.8 285.4L1488.5 311.1L1503.7 335.2L1515.1 357.9L1535.9 392.8L1541.6 403.6L1562.6 435.5Z" fill="#44f257"/>
<path d="M1593.4 500L1598.4 511.7L1603.4 526.3L1604 531.2L1604.3 550.8L1603.5 555.6L1600.3 564.9L1595.4 576.1L1588.7 589.1L1585.5 593L1578.3 597.8L1571.6 605L1565.5 609.8L1538.3 622.7L1520.7 628.7L1472.4 637.5L1438.1 640.9L1330 654.7L1227.8 660.4L1155.4 662.8L1093.3 662.7L1078 660.5L1071.7 658.3L1065 653L1062.6 648.2L1062.4 645.3L1064.1 638.4L1071.6 626L1116.3 565.3L1243.2 396.5L1331.9 280.4L1348.7 262.4L1365.2 249.5L1372.6 245.2L1387.6 240L1395.2 238.4L1400.2 238.1L1419.4 240.5L1433.5 243.8L1443.9 250L1456.1 262.9L1473.5 287.3L1488.3 314.7L1502 336.8L1514.3 361.1L1533.7 394L1539.3 404.6L1559.8 436.3L1573.6 459.2Z" fill="#38f449"/>
<path d="M1583 484.5L1594.7 511.6L1599.3 525.9L1599.9 530.8L1599.9 550L1598.5 557.1L1596.1 563.9L1591.3 574.9L1584.5 587.6L1581.5 591.5L1575.1 596.5L1570.2 602L1564.3 606.8L1538.1 620.1L1520.4 626L1472.2 634.9L1438.3 638.7L1403.3 643.8L1330 653.3L1228.5 659.3L1156.2 662.1L1106.3 662.5L1094.1 662.1L1078.7 660.1L1072.3 657.9L1065.6 652.6L1063.3 647.8L1063.7 641.6L1065.1 637.9L1069.5 629.9L1111 573.3L1244.6 396.4L1333.8 281.3L1348.5 265.5L1364.8 252.5L1372.2 247.9L1387.1 242.6L1394.6 241.1L1401.8 241L1418.6 242.7L1432.5 246.4L1440.7 251.3L1444.5 254.4L1451.4 261.7L1459.3 271.4L1473.5 291.2L1485.8 314.3L1499.3 336.5L1512.5 362.5L1537 405.6L1570.7 459.7Z" fill="#2df63a"/>
<path d="M1579.7 484.7L1591.7 513.7L1595.3 525.5L1595.9 530.3L1595.5 546.8L1594.7 553.9L1592.7 560.7L1587.1 573.7L1579 588.2L1565.2 602.3L1560.8 605.2L1535.4 618.6L1520 623.4L1499.3 627.6L1469.7 632.6L1436.8 636.7L1405.3 641.7L1330 652L1298.6 654.4L1231.2 658.2L1160.1 661.3L1098.8 661.9L1083.2 660.3L1075.8 658.8L1068.2 654.2L1064.8 650L1064 647.5L1064.6 641.1L1066 637.4L1070.6 629.3L1119.7 562.3L1245.3 397.3L1333.8 284.6L1346 270.5L1364.4 255.5L1371.7 250.7L1386.5 245.3L1396.3 243.6L1413.1 244.4L1420.1 245.5L1431.4 249L1439.5 254L1443.2 257.1L1451.7 266.2L1461 277.7L1472.2 293.1L1484.5 315.9L1497.7 338L1519.1 379.5L1546.1 425.6L1567.8 460.2Z" fill="#22f82c"/>
<path d="M1576.5 484.9L1587.9 513.5L1591.2 525.2L1591.9 529.8L1590.3 553L1588.5 559.7L1584 570.4L1574.8 586.7L1564.2 599.4L1532.7 617L1527.7 618.8L1511.9 622.7L1489.3 626.7L1435.2 634.7L1405.8 639.7L1330 650.7L1297.4 653.4L1166.9 660.3L1103.6 661.5L1083.8 659.9L1076.5 658.4L1068.8 653.9L1065.5 649.7L1064.7 647.1L1065.4 640.7L1071.6 628.8L1122.3 559.6L1246 398.1L1335.6 285.6L1345.8 273.5L1366.4 256.6L1373.7 252.3L1385.9 247.9L1395.6 246.3L1414.7 246.8L1426 249.8L1430.4 251.6L1438.3 256.8L1443.7 261.6L1455 274.5L1468.3 291.1L1496.1 339.6L1517.9 382.6L1543.5 426.5L1566 462.6Z" fill="#16fb1d"/>
<path d="M1573.3 485.1L1584.1 513.3L1587.2 524.8L1587.8 529.4L1585.5 554.3L1579.9 569.3L1569.4 587.1L1563 596.5L1561.2 598.1L1546.2 605.4L1532 614.3L1527.6 616.4L1506.3 621.2L1443.9 631L1404.9 637.9L1331.3 649.1L1299 652.2L1164.6 659.7L1104.3 661L1084.5 659.4L1077.1 658L1069.4 653.5L1066.1 649.3L1065.4 646.7L1066.3 640.2L1072.6 628.3L1123 559.4L1246.7 399L1326.5 300.5L1341.5 281.3L1347.7 274.5L1368.4 257.7L1373.2 255L1387.8 249.9L1397.3 248.9L1414 249L1425.1 252.2L1429.3 254.2L1438.9 261L1442.4 264.3L1468.4 294.8L1494.5 341.2L1515.7 384L1524.8 398.6L1541.8 429.1L1563.1 463.1Z" fill="#0bfd0f"/>
<path d="M1570 485.3L1580.3 513.1L1583.8 528.9L1581.1 553.4L1575.7 568.1L1569.6 577.9L1560 595.3L1555.8 598.2L1542.7 603.7L1529.3 612.8L1524.9 614.8L1506 618.7L1442 628.9L1402.5 636.4L1331.3 647.8L1299.3 651L1165.4 659L1105 660.5L1085.2 659L1077.7 657.7L1070 653.2L1066.8 648.9L1066.1 646.3L1067.2 639.8L1073.7 627.8L1123.7 559.2L1247.4 399.8L1328.3 301.6L1345.4 279.5L1370.3 258.9L1387.1 252.5L1391.9 251.8L1413.2 251.2L1426.3 255.6L1439.4 265.3L1467.1 296.7L1492.9 342.7L1513.5 385.4L1523.5 401.4L1539.1 430L1560.2 463.5Z" fill="#00ff00"/>
<path d="M1566.9 485.5L1576.7 512.9L1580 528.5L1577.3 552.6L1572.1 567.1L1556.3 593.7L1552 596.5L1538.9 601.9L1525.4 610.6L1521.1 612.6L1502.7 616.5L1442.2 626.8L1404.4 634.3L1370.2 640.1L1330 646.7L1299.5 649.8L1169.1 658.1L1109.7 660L1085.7 658.6L1078.4 657.2L1070.7 652.7L1067.6 648.5L1066.9 645.8L1067.2 642.7L1068.2 639.2L1072.2 631.4L1120.9 563.9L1248.8 399.7L1328.3 303.7L1345.2 282.2L1369.9 261.5L1386.6 255L1398.3 253.8L1412.5 253.4L1425.5 257.5L1438.6 267.1L1466.1 298.2L1490.8 342L1512 386.3L1521.6 402.4L1536.9 430.8L1557.3 464Z" fill="#09fe09"/>
<path d="M1563.8 485.7L1573.2 512.7L1576.3 528.1L1575.2 541L1573.4 551.7L1567.5 568.1L1552.6 592.2L1548.2 594.9L1535.1 600L1521.6 608.4L1517.4 610.4L1499.4 614.3L1369.8 638.7L1330 645.4L1299.8 648.5L1169.8 657.5L1110.3 659.6L1082.4 657.7L1079.1 656.8L1073.8 653.9L1071.4 652.3L1068.4 648L1067.8 645.3L1068.1 642.2L1069.3 638.6L1073.4 630.8L1121.9 563.6L1249.4 400.4L1328.3 305.8L1345 284.8L1367.1 265.6L1371.8 262.9L1386 257.5L1400 255.8L1411.8 255.5L1418.5 257L1424.8 259.4L1434.2 265.9L1439.5 270.5L1465.1 299.7L1489.6 343.1L1510.6 387.2L1519.8 403.3L1534.7 431.5L1553.6 462.6Z" fill="#12fd12"/>
<path d="M1560.6 485.9L1569.6 512.6L1572.3 525.5L1572.5 529.8L1571.3 542.5L1569.6 550.9L1563.9 567.1L1548.8 590.6L1544.4 593.2L1531.3 598.2L1513.6 608.1L1472 617L1369.3 637.2L1330 644.1L1300 647.2L1173.4 656.6L1111 659.1L1083.1 657.3L1079.8 656.3L1074.5 653.5L1070.4 649.9L1069.2 647.6L1068.7 644.9L1069.1 641.7L1070.3 638.1L1074.6 630.1L1122.8 563.3L1252.9 397.7L1344.9 287.5L1366.7 268.2L1371.4 265.5L1385.4 260L1397.1 258.2L1408.8 257.6L1417.8 258.9L1424 261.3L1433.4 267.7L1438.7 272.2L1464.1 301.2L1488.5 344.2L1509.1 388.1L1531.7 430.6L1550.8 463.1Z" fill="#1bfc1b"/>
<path d="M1557.5 486.1L1566 512.4L1568.6 525.1L1568.8 529.3L1566.7 546L1559.4 568L1545.1 589.1L1540.6 591.6L1525.3 597.4L1509.8 605.9L1451.1 619L1368.9 635.8L1330 642.8L1300.3 645.9L1177 655.7L1111.6 658.7L1083.7 656.9L1075.2 653.1L1071.1 649.5L1069.9 647.1L1069.5 644.4L1070 641.2L1075.8 629.5L1123.8 563L1254.2 397.5L1344.7 290.2L1366.3 270.8L1370.9 268.1L1384.8 262.5L1398.8 260.1L1408.1 259.7L1417.1 260.8L1421.3 262.1L1427.1 265.6L1436.2 272.3L1447.2 284.1L1463 302.7L1466.7 308.3L1487.4 345.4L1508.4 390.6L1530.4 432.9L1548 463.5Z" fill="#24fb24"/>
<path d="M1554.3 486.3L1562.4 512.2L1564.8 524.7L1565 528.9L1563.5 543.3L1557.4 563.1L1555 568.8L1541.4 587.5L1536.8 589.9L1521.5 595.5L1506 603.7L1449.2 617.2L1369.7 634.1L1330 641.5L1301.9 644.5L1177.6 655.1L1116.2 658.2L1092.2 657.4L1084.4 656.5L1075.9 652.7L1071.9 649L1070.7 646.7L1070.4 643.9L1071 640.6L1077 628.9L1124.8 562.8L1254.8 398.3L1344.5 292.8L1365.9 273.4L1370.4 270.7L1384.2 265L1395.8 262.6L1402.8 262L1411.9 262.1L1420.6 264L1431.9 271.2L1437 275.6L1450.8 290.8L1463.3 306L1486.2 346.5L1509.3 396.5L1528.2 433.7L1544.4 462.2Z" fill="#2dfa2d"/>
<path d="M1551.2 486.5L1558.4 510L1561.1 524.3L1561.3 528.4L1559.8 542.6L1551.5 567.7L1537.6 586L1533 588.3L1517.7 593.6L1504.3 600.6L1500 602.1L1445.7 615.7L1369.3 632.7L1330 640.2L1302.2 643.3L1178.3 654.4L1116.8 657.8L1092.8 657L1085 656.1L1076.5 652.3L1072.6 648.6L1071.5 646.2L1071.3 643.4L1071.9 640.1L1078.1 628.3L1125.7 562.5L1255.3 399.1L1344.3 295.5L1365.5 275.9L1370 273.3L1386 266.8L1395.2 264.8L1402.1 264.1L1415.7 264.6L1419.9 265.8L1431.1 273L1436.2 277.3L1449.9 292.3L1462.3 307.5L1485.1 347.6L1508.5 399L1525.2 432.8L1541.6 462.7Z" fill="#36f936"/>
<path d="M1548 486.7L1555.2 511.8L1557.3 523.9L1557.5 529.9L1556.1 541.9L1548.1 566.7L1545.8 570.1L1533.9 584.5L1529.2 586.6L1513.8 591.7L1500.4 598.4L1496.3 599.9L1443.9 613.9L1368.9 631.2L1330 639L1303.7 641.8L1181.8 653.5L1117.4 657.3L1093.4 656.6L1085.7 655.7L1077.2 651.9L1073.4 648.2L1072.3 645.8L1072.1 642.9L1072.9 639.6L1079.3 627.7L1126.7 562.2L1255.9 399.9L1346 296.2L1365.1 278.5L1369.5 275.9L1385.4 269.3L1399.2 266.3L1415 266.5L1419.2 267.7L1430.3 274.8L1435.4 279L1449 293.9L1461.3 309L1484 348.7L1506.8 400L1523.1 433.5L1538.9 463.2Z" fill="#3ff83f"/>
<path d="M1544.3 485L1551.3 509.7L1553.6 523.5L1553.2 537.4L1545.3 563.8L1543.7 567.4L1530.2 582.9L1525.4 585L1510 589.8L1492.5 597.7L1440.6 612.5L1368.4 629.8L1328.8 637.8L1182.5 652.8L1121.9 656.8L1094 656.2L1086.3 655.3L1077.9 651.5L1074.1 647.7L1073.1 645.3L1073 642.5L1073.8 639.1L1080.5 627.1L1127.6 561.9L1257.2 399.8L1345.8 298.9L1364.7 281.1L1369.1 278.5L1384.8 271.7L1398.6 268.5L1414.3 268.4L1418.5 269.5L1431.2 277.8L1437.8 283.8L1449.5 297.1L1461.5 312.1L1482.8 349.8L1505.9 402.5L1520.9 434.3L1535.4 461.9Z" fill="#48f648"/>
<path d="M1541.3 485.2L1548.2 511.4L1550.1 523.1L1550.3 529L1548.8 540.6L1545.4 549.7L1541.8 562.7L1540.2 566.3L1526.9 581.6L1522.4 583.6L1507.7 588.6L1490.4 596.4L1440.8 610.8L1368 628.4L1330 636.3L1301.6 639.7L1180.3 652.3L1118.7 656.4L1094.7 655.8L1087 654.8L1078.7 651L1075 647.2L1074.1 644.8L1074.1 641.9L1075 638.5L1081.8 626.5L1128.6 561.6L1177.6 500L1257.9 400.8L1345.6 301.4L1364.3 283.7L1368.6 281.1L1384.2 274.2L1397.8 271.1L1413.3 271.1L1417.4 272.2L1430.3 280L1436.8 285.9L1448.5 298.9L1459 312.4L1481 351.7L1503.9 403.6L1518.7 435L1532.7 462.4Z" fill="#51f551"/>
<path d="M1537.2 481.9L1544.5 509.4L1546.7 522.8L1546.8 528.5L1545.1 539.9L1537.6 563.5L1527.8 575.9L1523.6 580.2L1488.2 595L1439.5 609.5L1367.6 626.9L1330 635L1300.5 638.7L1181 651.6L1119.4 655.8L1095.3 655.3L1087.8 654.3L1079.5 650.5L1076 646.7L1075.1 644.2L1075.2 641.3L1076.2 637.8L1083.1 625.8L1129.6 561.3L1178.5 500L1258.7 401.8L1345.4 304L1363.8 286.4L1376.9 279.4L1383.6 276.7L1392.6 274.4L1399.2 273.6L1412.3 273.8L1416.4 274.9L1427.5 281L1432.6 284.9L1446 299L1457.7 314.3L1479.1 353.5L1502 404.7L1516.5 435.8L1530.1 462.9Z" fill="#5af45a"/>
<path d="M1539 500L1543.2 522.4L1543.4 528.1L1541.5 539.2L1534.8 560.7L1531.9 565.6L1523.3 576.1L1518.5 580L1487.9 593L1458.7 602.4L1436.7 608.6L1360.5 627L1330 633.7L1296.9 638L1181.7 650.9L1120.1 655.3L1096 654.9L1088.5 653.9L1080.3 650L1076.9 646.1L1076.1 643.6L1076.3 640.7L1077.3 637.2L1081.6 629.3L1130.6 561L1179.4 500L1258.7 403.7L1345.2 306.6L1363.4 289L1380.8 279.9L1394.1 276.6L1400.6 276L1411.4 276.5L1415.4 277.6L1426.5 283.2L1431.6 287L1445 300.8L1455.1 314.5L1458.5 319.8L1478 357L1500 405.8L1527.4 463.4L1533.8 480.4Z" fill="#63f363"/>
<path d="M1535.7 500L1539.7 522L1539.9 527.6L1538.3 536.7L1531.9 557.9L1528.4 564.5L1520 574.9L1515.3 578.6L1485.7 591.7L1455.6 601.7L1435.4 607.3L1366.7 624.1L1331.2 632.1L1299.7 636.5L1256.3 641.6L1179.5 650.5L1120.8 654.8L1096.7 654.4L1089.2 653.4L1081.1 649.5L1077.8 645.6L1077.1 643.1L1077.3 640L1078.5 636.6L1082.9 628.7L1131.6 560.7L1180.4 500L1258.8 405.5L1341.4 313L1356.7 297.3L1365.1 290.3L1380.3 282.3L1393.3 279.3L1399.8 278.5L1406.2 278.6L1414.3 280.3L1425.5 285.4L1429 287.7L1436.7 295L1446.6 305.9L1456.1 319.9L1475.3 357.2L1521.1 455.9L1530.4 478.9Z" fill="#6cf26c"/>
<path d="M1532.5 500L1536.5 523.5L1536.2 529L1534.2 537.8L1527.8 558.6L1518 572.2L1515.4 574.9L1512.1 577.3L1496.6 584.9L1483.5 590.4L1454.1 600.5L1366.3 622.6L1330 631L1298.7 635.5L1186 649.1L1121.5 654.3L1097.4 653.9L1089.9 652.9L1087 651.8L1081.9 649.1L1078.8 645.1L1078.2 642.5L1078.4 639.4L1079.6 635.9L1086.9 623.9L1132.5 560.4L1182.3 498.7L1267.2 397.6L1343 313.6L1360.5 295.9L1375.3 286.7L1379.7 284.8L1392.5 281.9L1401.2 280.9L1409.4 281.8L1413.3 282.9L1424.5 287.6L1428 289.8L1441.5 303L1445.5 307.7L1454.7 321.8L1462.8 338.9L1473.5 359L1517.9 454.9L1527.7 479.2Z" fill="#75f175"/>
<path d="M1529.2 500L1533.1 523.1L1532.7 528.5L1524.3 557.6L1514.7 570.9L1508.9 575.9L1496.2 582.9L1481.2 589.1L1452.7 599.3L1330 629.6L1299 634.4L1183.8 648.7L1122.2 653.7L1098.1 653.5L1090.6 652.5L1087.7 651.4L1082.7 648.6L1079.7 644.5L1079.2 641.9L1079.5 638.8L1080.8 635.3L1088.2 623.2L1133.5 560.1L1183.2 498.7L1267.9 398.7L1342.9 316.2L1360.1 298.5L1374.8 289.1L1379.1 287.2L1400.4 283.4L1404.5 283.7L1412.3 285.6L1423.6 289.9L1427 291.9L1440.4 304.8L1444.4 309.5L1453.4 323.8L1461.2 340.8L1472.4 362.5L1486.7 392.3L1515.4 455.5L1524.9 479.5Z" fill="#7ef07e"/>
<path d="M1522.1 479.8L1529.6 522.7L1529.5 526.3L1521.5 554.9L1519.9 558.1L1511.4 569.6L1507.3 573.4L1493.9 581.7L1451.2 598.2L1330 628.3L1299.2 633.2L1184.5 648L1122.9 653.2L1098.8 653L1091.4 652L1088.5 650.9L1083.5 648.1L1080.6 644L1080.2 641.3L1080.6 638.2L1081.9 634.7L1089.5 622.6L1134.5 559.8L1184.2 498.7L1269.3 399L1344.4 316.9L1359.7 301.1L1374.3 291.5L1378.6 289.7L1397.4 286.1L1401.6 285.9L1409.4 287.7L1422.6 292.1L1427.6 295.4L1440.8 308.1L1443.4 311.3L1452 325.7L1459.6 342.8L1484.1 392.1L1513 456.1Z" fill="#87ef87"/>
<path d="M1519.3 480.1L1526.2 522.3L1526.1 525.8L1518 553.9L1508.2 568.4L1505.6 571L1491.7 580.6L1449.8 597L1328.9 627.2L1298.3 632.2L1182.3 647.7L1123.6 652.7L1099.5 652.6L1092.1 651.6L1089.2 650.5L1084.3 647.6L1081.5 643.5L1081.2 640.8L1083.1 634.1L1090.7 621.9L1135.5 559.5L1184 500L1270 400.1L1355.4 307.3L1361.3 302.3L1373.8 294L1378 292.1L1396.6 288.6L1400.8 288.4L1421.6 294.3L1426.6 297.4L1439.8 309.9L1442.3 313.1L1449.8 325.8L1457.9 344.8L1482.2 393.4L1509.9 455.2Z" fill="#90ee90"/>
<path d="M1516.1 480.4L1522.1 516.8L1522.5 525.3L1514.3 552.8L1504.6 567L1500.8 570.7L1488.5 579L1447.6 595.2L1330 625.5L1299.9 630.4L1183.4 646.6L1124.5 652.1L1100.3 652.1L1096.3 651.7L1090.1 649.9L1085.3 647L1082.5 642.9L1082.2 640.2L1082.8 637L1084.3 633.4L1092.1 621.2L1136.8 559.1L1185.1 500L1270.6 401.1L1355 309.9L1360.9 304.9L1373.3 296.4L1377.4 294.5L1393.8 291.5L1399.9 291.1L1420.4 297L1425.3 300.2L1438.4 312.2L1440.9 315.4L1448.3 327.9L1456.5 346.5L1480.5 394.6L1507.1 455.9Z" fill="#97ef87"/>
<path d="M1512.4 479.2L1518.6 514.8L1518.9 524.9L1515.8 536.1L1510.5 551.7L1501.1 565.7L1496 570.5L1485.3 577.4L1445.5 593.5L1330 624L1184.5 645.5L1125.4 651.4L1101.1 651.5L1093.8 650.5L1088.4 648L1086.2 646.5L1083.5 642.3L1083.3 639.6L1083.9 636.4L1087.7 628.8L1134.4 563.5L1186.1 500L1271.2 402.2L1354.7 312.5L1360.5 307.5L1372.7 298.9L1376.9 296.9L1397.1 293.6L1400.9 294.2L1415.5 298.5L1422.5 301.6L1432.8 310.6L1439.5 317.7L1446.9 330L1455.1 348.3L1466.6 370.4L1478.7 395.9L1493.5 430.6L1504.8 458Z" fill="#9ef07e"/>
<path d="M1510.1 482.7L1515.4 514.6L1515.6 522.8L1515 526L1512.4 535.4L1506.7 550.7L1497.5 564.3L1492.8 569.1L1482.1 575.8L1443.3 591.8L1426.7 596.7L1330 622.5L1185.5 644.5L1126.2 650.8L1101.8 651L1094.6 649.9L1089.3 647.5L1087.1 645.9L1084.5 641.7L1084.3 639L1085 635.8L1088.9 628.2L1135.7 563.1L1187.2 500L1272.6 402.5L1354.3 315.1L1360.1 310.1L1372.2 301.4L1376.3 299.3L1390.2 296.6L1396.2 296.2L1414.4 301.1L1419.6 303.4L1422.7 305.6L1434.3 315.6L1439.3 321.6L1445.4 332.1L1453.7 350L1464.4 370.2L1477.6 398.6L1502.5 460.2Z" fill="#a5f175"/>
<path d="M1510 500L1512.2 515.9L1511.8 523.9L1509.9 531.7L1506.2 542.3L1502.9 549.6L1493.1 564.2L1488.2 568.8L1478.9 574.3L1439.8 590.5L1425.1 595.1L1330 621L1183.7 643.8L1127.1 650.1L1102.6 650.5L1095.5 649.4L1090.2 647L1088.1 645.4L1085.5 641.1L1085.4 638.4L1086.1 635.2L1090.2 627.5L1136.9 562.7L1188.3 500L1273.2 403.6L1354 317.7L1357.8 314.2L1371.7 303.9L1375.8 301.6L1389.5 299L1395.4 298.9L1413.3 303.8L1419.9 307.1L1428.8 314.1L1435.6 320.8L1439.1 325.4L1444 334.2L1453.1 353.3L1463 371.6L1470.2 388.5L1475.8 399.8L1499.6 460.8L1506.9 483Z" fill="#acf26c"/>
<path d="M1506.9 500L1508.9 515.6L1508.2 523.5L1506 532.6L1502.6 541.4L1499.1 548.5L1487.6 565.3L1485 567.4L1475.7 572.7L1458.6 580.4L1440.3 587.8L1427.2 592.2L1330 619.5L1297.9 624.2L1181.7 643.2L1128 649.5L1103.4 650L1096.3 648.9L1091.1 646.4L1089 644.8L1086.5 640.6L1086.4 637.8L1087.2 634.6L1091.4 626.9L1138.2 562.3L1189.3 500L1282.3 395.4L1355.5 318.4L1371.2 306.3L1375.2 304L1386.9 301.7L1392.7 301.3L1398.1 302.2L1410.5 305.7L1417.1 308.9L1426.1 315.4L1432.9 321.7L1437.8 327.5L1451.6 355L1461.6 372.9L1468.4 389.9L1473.4 399.6L1496.8 461.5L1503.7 483.3Z" fill="#b3f363"/>
<path d="M1500.9 485.1L1505.7 513.8L1504.6 523L1502.5 532L1497.7 543.4L1484.3 563.9L1481.8 566L1474.1 570.3L1456.1 578.8L1424.2 591L1330 618L1298.3 622.5L1179.7 642.7L1128.8 648.9L1104.2 649.5L1097.2 648.3L1092 645.9L1089.9 644.3L1087.5 640L1087.4 637.2L1088.3 634L1092.7 626.2L1139.4 561.9L1190.4 500L1282.8 396.5L1355.2 321L1370.6 308.8L1374.7 306.4L1390 303.7L1395.4 304.5L1409.4 308.4L1415.8 311.6L1426.2 319L1436.4 329.7L1450.2 356.7L1460.2 374.3L1466.7 391.2L1471.1 399.4L1482.3 429L1493.9 462.2Z" fill="#baf45a"/>
<path d="M1498.4 488.2L1502.4 513.6L1499 531.3L1494.8 541.1L1481 562.6L1477.1 565.5L1453.5 577.2L1421.3 589.7L1330 616.5L1298.7 620.8L1180.7 641.7L1129.7 648.2L1104.9 649L1098 647.8L1092.8 645.3L1090.9 643.7L1088.5 639.4L1088.5 636.6L1089.3 633.4L1093.9 625.5L1140.7 561.5L1191.5 500L1283.4 397.7L1354.8 323.7L1370.1 311.3L1374.1 308.8L1389.3 306.2L1408.3 311L1414.6 314.4L1424.9 321.5L1435.1 331.8L1448.8 358.4L1458.8 375.6L1465 392.6L1469.4 400.6L1479.6 428.6L1491 462.8Z" fill="#c1f551"/>
<path d="M1495.3 488.4L1499.2 513.3L1495.6 530.7L1491.3 540.2L1483.5 551.4L1477.7 561.2L1475.5 563.3L1450.9 575.5L1419.6 588.1L1330 614.9L1299.2 619.2L1178.6 641.2L1130.5 647.6L1105.7 648.5L1098.9 647.2L1093.7 644.8L1091.8 643.1L1089.5 638.8L1089.5 636.1L1090.4 632.8L1095.1 624.9L1141.9 561.1L1192.5 500L1283.2 399.6L1354.4 326.3L1369.6 313.8L1373.6 311.2L1388.5 308.6L1407.2 313.6L1423.6 323.9L1433.7 334L1449 363.1L1457.4 377L1463.3 394L1467.6 401.8L1477.5 429.7L1487.7 462.1Z" fill="#c7f648"/>
<path d="M1491.2 488.7L1494.4 512.9L1490.8 529.8L1486.7 539.1L1473.7 559.5L1471.5 561.5L1448 573.7L1417.8 586.3L1330 613.1L1299.6 617.5L1180.4 639.5L1132.2 646.4L1107 647.6L1100 646.5L1094.8 644.1L1092.9 642.5L1090.6 638.2L1090.7 635.4L1091.7 632.1L1096.4 624.2L1141.9 563L1193.9 500L1284.6 400.4L1353.9 329.9L1368.8 317.5L1372.7 315.1L1387.5 312.1L1405.9 316.8L1422.1 326.8L1431.9 336.9L1440.5 353.4L1455.2 379.1L1461.1 395.7L1465.2 403.5L1474.6 431L1484.7 464.3Z" fill="#d2f83b"/>
<path d="M1488.8 500L1489.7 512.6L1486 528.9L1482.2 537.9L1469.6 557.8L1467.5 559.8L1459.3 564.5L1445.1 571.9L1414.9 584.9L1330 611.2L1300 615.9L1182.1 637.9L1133.8 645.2L1108.3 646.7L1101.2 645.8L1096 643.4L1094 641.8L1091.8 637.5L1091.9 634.7L1093 631.4L1097.8 623.5L1129.5 581L1147.3 557.6L1195.3 500L1283.3 404.2L1297.3 389.7L1353.4 333.5L1368 321.3L1373.6 318.3L1384.6 315.7L1388.2 315.5L1404.6 319.9L1420.5 329.8L1429 338.5L1431.1 341.4L1453.1 381.1L1458.9 397.5L1462.8 405.3L1471.7 432.4L1481.6 466.4L1487.2 489Z" fill="#dcfa2e"/>
<path d="M1484.6 500L1485 512.2L1481.3 528L1477 538L1465.6 556.2L1463.5 558.1L1455.9 562.8L1442.2 570.1L1415.2 582.2L1405.9 585.8L1330 609.3L1301.6 614L1180.7 636.8L1131.1 644.5L1109.6 645.9L1102.3 645L1097.1 642.7L1095.1 641.1L1092.9 636.9L1093.1 634.1L1094.2 630.7L1099.1 622.8L1128.6 583.4L1149 557.1L1196.7 500L1297.9 391.5L1324.2 366.1L1352.9 337.1L1367.2 325L1372.7 322.2L1383.5 319.2L1387.1 318.8L1390.5 319.3L1403.3 323.1L1418.9 332.7L1429.2 344.3L1450.3 381.8L1456.7 399.2L1460.4 407L1468.4 432.5L1479.9 473.6L1483.4 490.6Z" fill="#e6fb21"/>
<path d="M1480.3 500L1480.2 511.8L1476.5 527.2L1473.1 535.7L1468.8 543.8L1461.5 554.5L1451.3 561.8L1439.3 568.3L1413.3 580.4L1403.4 584.4L1330 607.5L1185.6 634.6L1132.7 643.4L1115.2 644.9L1106.9 644.9L1103.5 644.3L1098.2 642.1L1094.8 638.5L1094 636.2L1094.2 633.4L1095.5 630L1103.4 618L1148.9 558.8L1198.1 500L1298.4 393.3L1324.3 368.9L1352.4 340.7L1366.4 328.8L1371.8 326L1386.1 322.1L1389.4 322.5L1402 326.3L1417.4 335.7L1427.4 347.1L1448.2 383.9L1458 408.7L1461.1 418.1L1476.4 474.2Z" fill="#f0fd14"/>
<path d="M1476.1 500L1475.5 511.5L1471.3 527.5L1464.1 543.6L1457.4 552.8L1447.9 560.1L1436.4 566.5L1401.9 582.7L1330 605.6L1187.4 633L1138.8 641.5L1120.7 643.8L1112.2 644.2L1104.6 643.6L1099.3 641.4L1095.9 637.9L1095.1 635.6L1095.4 632.7L1096.7 629.3L1104.7 617.3L1131.3 582.3L1150.6 558.3L1199.5 500L1298.9 395.1L1324.4 371.7L1353.5 342.8L1363.8 333.9L1370.8 329.9L1385 325.4L1388.3 325.6L1399.1 328.9L1402.1 330.2L1415.8 338.7L1425.5 350L1441.9 377.9L1446 386L1457.4 415.7L1473.1 476Z" fill="#fafe07"/>
<path d="M1471.8 500L1470.8 511.1L1466.6 526.5L1460.1 542.3L1453.4 551.1L1443.5 559.1L1425.1 569.1L1400.4 581L1330 603.7L1186 631.9L1135.8 641.1L1122.1 642.9L1109.3 643.3L1105.8 642.8L1100.4 640.7L1097 637.2L1096.3 634.9L1096.6 632L1098 628.6L1106 616.6L1135.1 578.8L1202 498.9L1300.2 396.2L1324.5 374.5L1346.8 352.2L1361.3 339.1L1366.5 335.3L1378.6 330.5L1384 328.8L1387.3 328.8L1399.3 332.6L1414.2 341.6L1423.7 352.9L1440 380L1446.8 394.9L1455.7 419.9L1469.6 476.6Z" fill="#fff400"/>
<path d="M1467.6 500L1465.8 511.9L1460.3 530.1L1456.1 541L1450.9 547.6L1440.2 557.4L1421.6 567.8L1398 579.6L1329.1 602.1L1146.6 638.2L1127.9 641.5L1110.5 642.5L1104 641.2L1099.6 638.5L1098.1 636.6L1097.4 634.3L1097.8 631.4L1099.3 627.9L1107.3 615.9L1136.5 578.2L1203.4 498.9L1300.7 398L1324.6 377.3L1346.5 355.6L1362.3 341.3L1367.3 338.4L1381.1 332.7L1386.2 331.9L1398 335.8L1413.8 345.6L1422.8 357.1L1438.7 383.4L1445.1 398.1L1453.2 421.5L1466 477.2Z" fill="#ffdd00"/>
<path d="M1462.5 477.8L1463 503.5L1459.6 517.1L1452.5 538.6L1447.7 545.2L1436.9 555.6L1419.1 566L1396.6 577.9L1329.1 600.2L1298.3 606.9L1134.1 639.8L1120.4 641.4L1108.1 641.4L1102.6 639.3L1099.2 635.9L1098.5 633.6L1099 630.7L1103 623.3L1130.6 586.7L1204.8 498.9L1301.3 399.8L1324.8 380.1L1344.7 360.3L1361.5 345L1364.8 343L1381.9 335.4L1385.2 335.1L1396.7 339L1412.2 348.5L1421.8 361.3L1436.8 385.5L1443 400L1450.7 423.1L1456.6 452.7Z" fill="#ffc600"/>
<path d="M1457.5 500L1453.8 516.3L1446.9 536.9L1442.5 543.2L1432.2 553.2L1415.6 563.4L1394.1 575L1329.2 597.3L1291.4 606L1136.7 637.9L1122.7 639.8L1109.9 640.2L1104.5 638.2L1101.1 634.8L1100.5 632.5L1101 629.5L1105.2 622.1L1133 585.7L1207.4 498.9L1302 402.4L1324.9 383L1344.3 364.3L1360.5 350L1380.1 341.1L1383.3 340.8L1394.6 344.1L1409.5 353.6L1418.8 365.8L1433.4 389.1L1439.2 403.4L1446.3 425.9L1457 478.8Z" fill="#ffb700"/>
<path d="M1451.3 478.6L1451.3 503.2L1446.5 520.5L1441.4 535.1L1437.9 540.3L1427.6 550.8L1406.5 564.2L1391.6 572.1L1353.9 586.2L1330 594.2L1268.5 608.7L1129.7 637.7L1115.6 639.2L1111.7 639.1L1106.3 637.1L1103 633.7L1102.5 631.3L1103.1 628.4L1107.3 620.9L1135.4 584.6L1210 499L1302.8 405.1L1325 385.9L1343.9 368.2L1358 356.1L1362.5 353.3L1378.3 346.9L1381.4 346.5L1391.1 348.7L1405.6 357.7L1415.9 370.2L1430 392.8L1435.8 408.1L1442.1 429.9Z" fill="#ffa900"/>
<path d="M1445.9 500L1442.1 515.8L1435.5 534.3L1432 539.1L1423.7 547.8L1403.3 561.5L1390.6 568.5L1353.9 583.2L1330 591.3L1294.3 600.7L1137.1 635.1L1122.4 637.4L1113.6 637.9L1108.1 636L1104.9 632.6L1104.5 630.2L1105.2 627.2L1109.5 619.7L1137.8 583.6L1211.6 500L1303.5 407.7L1343.4 372.1L1355.6 362.1L1359.9 359.1L1371.8 354.4L1378 352.3L1387.7 353.5L1391.5 355.1L1402.9 362.8L1412.9 374.7L1426.6 396.4L1431.9 411.4L1437.7 432.7L1445.8 479.6Z" fill="#ff9b00"/>
<path d="M1440.1 500L1435.9 516.8L1430 532.5L1426.7 537.1L1419 545.4L1400.2 558.9L1388 565.6L1352.4 580.8L1330 588.5L1294.2 598.4L1269.8 604.2L1200 619.1L1139.7 633.3L1124.5 636L1115.4 636.7L1109.9 634.9L1106.8 631.5L1106.5 629.1L1107.3 626L1111.7 618.5L1140.2 582.5L1214.3 500L1304.3 410.4L1343 376.1L1354.7 366.8L1360.2 363.6L1376.1 358L1384.3 358.5L1388.2 359.5L1399.2 367.1L1402.1 369.9L1410.7 380.3L1422.6 398.9L1427.7 413.6L1433.3 435.5L1439 468.7L1440.4 480.5Z" fill="#ff8c00"/>
<path d="M1434.3 500L1430.2 515.9L1424.5 530.7L1422.1 534.4L1414.3 542.9L1395 557.5L1384.8 563L1351.7 578.1L1330 585.6L1295.1 595.9L1271.2 601.9L1202.6 616.7L1137.1 632.6L1121.4 635.5L1117.2 635.6L1114.1 634.9L1111.8 633.7L1108.7 630.3L1108.5 627.9L1109.3 624.9L1113.9 617.4L1142.6 581.5L1216.9 500L1305.7 412.4L1338.1 383.6L1352.5 372.4L1357.8 369.3L1374.3 363.8L1383.7 363.8L1386.1 364.7L1397.5 373L1405.4 381.7L1419.3 402.6L1420.7 406.1L1427.1 429.5L1434 470.2L1434.9 483.4Z" fill="#ff7e00"/>
<path d="M1428.5 500L1424.3 515.8L1419 528.9L1416.8 532.5L1409 541.1L1392.7 554.5L1350.9 575.4L1299.1 592.5L1275.2 598.9L1205.2 614.3L1139.6 630.9L1123.3 634.2L1119 634.4L1115.9 633.8L1113.6 632.6L1110.6 629.2L1110.5 626.8L1111.4 623.7L1116 616.2L1144.9 580.5L1219.5 500L1305.2 416.2L1322.2 400.3L1342.2 383.9L1351.7 376.9L1356.7 374.4L1372.4 369.5L1381.6 369L1383.9 369.8L1394.8 378.1L1403.2 387.2L1415.9 406.3L1417.3 409.6L1422.9 432.5L1429 471.6L1429.4 484.3Z" fill="#ff7000"/>
<path d="M1422.7 500L1418.6 514.8L1412.9 528.5L1401.2 541.9L1389.6 551.8L1350.2 572.7L1298.9 590.3L1276.5 596.5L1207.8 611.9L1130.8 631.9L1120.9 633.2L1117.7 632.7L1113.7 630L1112.5 628.1L1112.4 625.6L1113.5 622.5L1118.2 615L1147.3 579.4L1165 560L1221.3 500.9L1322.4 403.2L1337.6 390.9L1353.3 380.4L1369.2 375.5L1378.3 374.2L1380.8 374.4L1391.2 382.4L1401.1 392.6L1412.5 410L1413.8 413.2L1418.6 434.5L1423.9 473.1L1423.8 486Z" fill="#ff6100"/>
<path d="M1417.6 496.9L1413 513.9L1407.1 527.3L1396.5 540L1386.6 549.2L1349.4 570L1299.8 587.7L1277.8 594.1L1210.4 609.6L1132.9 630.5L1122.7 632.1L1119.5 631.6L1115.6 628.8L1114.4 627L1114.4 624.5L1115.5 621.3L1120.4 613.8L1149.7 578.4L1167.5 559.1L1223.9 500.9L1275.2 452.3L1323.4 405.3L1337.4 394.5L1351.2 385.6L1365 381.8L1376.3 379.4L1378.7 379.5L1387.7 386.8L1398.1 397.1L1409.1 413.7L1410.4 416.8L1414.5 437.5L1418.9 474.5Z" fill="#ff5300"/>
<path d="M1405.5 501.2L1401.1 517.1L1395.6 529.8L1385.6 541.6L1376.3 550.3L1341.3 569.9L1294.7 586.5L1274.1 592.5L1210.7 607.1L1137.8 626.7L1128.2 628.2L1125.2 627.7L1121.5 625.2L1120.4 623.5L1120.5 621.1L1121.5 618.1L1126.1 611.1L1153.7 577.8L1170.4 559.7L1223.4 505L1271.6 459.3L1316.9 415L1330 404.9L1343 396.5L1356 393L1366.6 390.8L1368.9 390.8L1377.3 397.6L1387.1 407.4L1397.5 422.9L1398.6 425.9L1402.5 445.3L1406.7 480.1Z" fill="#ff4200"/>
<path d="M1393.3 505.5L1389.2 520.4L1384.1 532.2L1374.7 543.3L1366 551.5L1333.3 569.8L1289.6 585.4L1270.3 591L1211 604.6L1142.7 623L1133.8 624.4L1130.9 623.9L1127.5 621.5L1126.5 619.9L1126.5 617.7L1127.5 614.9L1131.7 608.3L1157.6 577.1L1173.2 560.2L1222.8 509L1267.9 466.2L1310.4 424.8L1322.7 415.3L1334.9 407.5L1347 404.1L1356.9 402.1L1359 402.1L1367 408.5L1376.1 417.6L1385.8 432.2L1386.9 434.9L1390.5 453.2L1394.5 485.7Z" fill="#ff3300"/>
<path d="M1378.6 512.9L1375.4 524.2L1370.6 535L1362 545.3L1354 552.8L1323.9 569.6L1283.7 584L1265.9 589.1L1211.3 601.7L1148.5 618.6L1140.2 619.9L1137.6 619.5L1134.5 617.3L1133.5 615.8L1134.4 611.2L1138.4 605.1L1162.1 576.4L1222.2 513.7L1263.7 474.3L1302.8 436.2L1314.1 427.4L1325.3 420.3L1336.5 417.2L1347.6 415.3L1354.9 421.2L1363.3 429.6L1372.2 443L1373.2 445.5L1376.6 462.3L1380.2 492.3Z" fill="#ff2400"/>
<path d="M1364.4 517.7L1361.5 528L1357.2 537.9L1349.3 547.3L1342 554.1L1314.5 569.5L1277.7 582.6L1261.5 587.3L1211.6 598.7L1154.2 614.2L1146.7 615.4L1144.3 615L1141.4 613L1140.6 611.7L1141.4 607.5L1145 601.9L1166.7 575.7L1221.6 518.4L1295.2 447.6L1305.6 439.6L1315.8 433L1326 430.2L1336.1 428.5L1342.8 433.9L1350.5 441.5L1358.7 453.8L1362.6 471.4L1365.9 498.8Z" fill="#ff1700"/>
<path d="M1348.3 523.1L1345.7 532.3L1341.8 541.1L1334.8 549.5L1328.3 555.6L1303.7 569.3L1271 581L1256.5 585.2L1212 595.4L1160.8 609.2L1154.1 610.3L1151.9 609.9L1149.4 608.2L1148.6 606.9L1149.4 603.2L1152.6 598.2L1171.9 574.9L1220.9 523.7L1286.5 460.6L1295.8 453.5L1304.9 447.6L1314 445.1L1323 443.6L1329 448.4L1335.8 455.2L1343.1 466.1L1346.6 481.9L1349.6 506.3Z" fill="#ff0d00"/>
<path d="M1330.1 529.2L1327.9 537.2L1324.5 544.8L1318.5 552L1312.8 557.3L1291.6 569.1L1263.3 579.2L1250.8 582.9L1212.4 591.7L1168.2 603.6L1162.4 604.5L1160.5 604.2L1157.7 601.6L1158.3 598.4L1161.1 594.1L1177.8 573.9L1220.1 529.8L1276.8 475.2L1284.8 469.1L1292.6 464L1300.5 461.9L1308.3 460.6L1319.4 470.6L1325.7 480L1328.7 493.6L1331.2 514.7Z" fill="#ff0500"/>
<path d="M1309.9 536L1308.1 542.6L1305.3 548.9L1300.3 554.8L1295.6 559.2L1278.2 568.9L1254.9 577.3L1244.5 580.3L1212.9 587.5L1176.4 597.4L1170.1 597.9L1167.7 595.7L1168.2 593.1L1170.5 589.5L1184.3 572.9L1219.2 536.5L1265.9 491.5L1279 482.3L1291.9 479.4L1301.1 487.7L1306.2 495.5L1308.7 506.7L1310.8 524.1Z" fill="#ff0000"/>
</g></g>
<g fill="none" stroke="#000" stroke-width="1.5" stroke-linejoin="round">
<path d="M1033 648.6L1037.6 638L1049.6 620L1067.6 594.5L1081 575L1093 560L1133.9 500L1192.5 400L1246 300L1280 240.6L1292 225.6L1307 206L1317.5 194L1332.6 177.5L1340 170L1355 162.5L1365.6 153.5L1378.4 156.5L1394 150.5L1405.4 147.5L1415 151L1430 151L1445 153.5L1457 162.5L1480 171.5L1490 186.6L1503.8 195.6L1511 209L1521.8 225.6L1532 251L1540 260L1550.7 285.5L1558 290L1570 309.6L1585 329L1600 350L1610.8 368L1627 383L1643.8 400L1660 418L1667.6 430L1690 451L1705 464.6L1720 484L1735 499L1747 518.7L1757.8 529L1760.8 540L1756 548L1757.8 555L1760 570L1757 585L1754.8 595.6L1747 609L1742.7 622.6L1738 639L1727.7 648L1723 658.6L1705 667.7L1687 675L1678 680L1660 687L1622.6 697.6L1600 699.8L1590 702.8L1570 706.6L1545 709.6L1515 713L1470 712.6L1425 708.8L1380 705.8L1335 701L1290 696.8L1210 690.7L1150 684.7L1090 680L1063 677L1042 669.7L1034.5 662Z"/>
<path d="M1041.3 650L1043.6 639.6L1060 615.6L1084 582.5L1099 560L1143.6 500L1207.5 400L1262 300L1280 273.7L1295 252.7L1310 231.6L1325 212L1343 192.6L1356 189L1376 182L1385 176L1395.7 175L1402.4 178L1416 175L1430 177.5L1452.7 188L1469 200L1488.8 213.6L1496 233L1511 255.7L1525 278L1534 296L1549 314L1558 330.6L1573 353L1583.7 369.6L1595.7 380L1607.8 398L1619.6 413.5L1639 433L1655.6 455.6L1667.6 467.6L1682.7 487L1694.7 503.6L1702 523L1711 540L1712 562.5L1709.7 579L1705 594L1697.7 606L1693 618L1687 630L1672 640L1667.8 647.7L1652.8 658L1630 665.7L1612 674.7L1585 677.7L1564 683.7L1529.6 686.7L1515 688.5L1470 689L1425 690.8L1380 688.5L1335 686L1290 682.5L1240 681L1180 679L1120 676.5L1075 673L1051 668L1042.8 660.6Z"/>
<path d="M1050.3 648.6L1052.6 639.6L1067.6 618.6L1090 587L1109.7 560L1154 500L1224.7 400L1290 300L1302.5 280L1317.5 261.7L1335.6 242L1352 225L1364 218L1391 208L1403 206L1409 208L1426.5 206L1434.7 212L1451 218L1462 225L1473 236L1481 248L1487.6 260L1504 287L1522 320L1540 348.6L1555 371L1570 390.7L1576 400L1589.5 421L1604.5 440.6L1619.6 464.6L1634.6 490L1648 514L1655.6 540L1655.8 552L1650.6 575.5L1645 589L1642 602.6L1630 613L1615 620.6L1612 628L1592.7 640L1570 644.7L1547.6 655L1520.6 662L1480 666.3L1445.7 670.7L1365 671.4L1290 672L1195 671L1120 670.4L1078 668L1060 663.6L1052.6 656Z"/>
<path d="M1059.3 645.6L1063 635L1084 606.6L1105 578L1118.7 560L1162.4 500L1236.6 400L1310 300L1325 280L1334 267.7L1352 251L1368.6 239L1385 233L1401.7 229.4L1410.7 232.4L1424 234L1437.7 236L1446.7 240.6L1458 252L1468 266L1477 281L1492 309.6L1507 332L1519 356L1531 374L1543 395L1545 400L1567.8 433L1582.8 458.6L1596 484L1608 508L1615.8 527.7L1616.6 540L1618 555L1613.7 566.5L1607.7 580L1600 596.6L1585 602.6L1577.7 614.6L1555 623.6L1530 634.7L1510 639L1480 644.5L1442.7 646.7L1405 651L1367.6 654L1330 658.7L1300 660L1225 663.6L1150 665L1090 664.4L1070.6 660.6L1061.6 653Z"/>
<path d="M1065.3 644L1070.6 632L1096 597.5L1123 560L1170 500L1247.3 400L1329.6 300L1344.6 280L1370 258.7L1388 252L1413.7 251L1427 255.7L1439 264.7L1452.7 280L1468 297.6L1480 320L1492 341L1504 365L1513 384.7L1522.7 400L1539 430L1560 463L1570.8 487L1579.8 511L1584 527.7L1582.8 540L1581 555L1575 570L1570 577L1559.6 596.6L1543 603.3L1526.6 614.6L1510 618L1480 623L1442.7 628.7L1405 636L1367.6 642L1330 648L1300 651L1240 654.6L1165 659L1105 660.6L1078 658.4L1067.6 651.6Z"/>
<path d="M1072 642.6L1078 630.6L1105 593L1129 560L1176.7 500L1257 400L1344.6 300L1365.6 280L1383.6 272L1397 268.4L1416.7 268.4L1431.7 278L1439.5 285.5L1450 297.6L1462 312.6L1472.6 332L1483 350L1492 371L1501 390.7L1504.7 400L1521 434.5L1536 463L1545 487L1551 508L1554 526L1553 540L1549 550L1544.6 566.5L1530 583.6L1510 589.6L1495 597L1472.7 603L1442.7 612L1405 621L1367.6 630L1330 637.7L1300 641L1255 645.6L1180 653L1120 657L1087 656L1075 650Z"/>
<path d="M1080.4 639.6L1085.6 629L1109.7 596L1135 560L1184 500L1270 400L1358 304.5L1376 292.5L1400 288L1424 295L1441 311L1450 326L1457.5 344L1466.6 362L1474 377L1483 395L1485 400L1498.7 430L1510.7 457L1519.7 481L1524 508L1526.5 524.7L1522 540L1517.8 555L1507 570L1492 580.6L1472.7 588L1450 597L1420 604.6L1390 612L1360 619.6L1330 627L1300 632L1255 638L1180 648L1120 653L1093 652.4L1082.6 647Z"/>
<path d="M1088.6 636.6L1093 627.6L1120 591.5L1142.7 560L1192.5 500L1282.8 400L1355 325.6L1373 311L1388 308.3L1407.7 313.6L1424 324L1434 334L1441 348.6L1450 365L1457.5 377L1463.6 395L1467 400L1477.6 430L1488 463L1495.7 490L1499.4 512.7L1495.7 530.7L1491.5 540L1483 552L1477 562.5L1450 576L1420 588L1390 597L1360 606L1330 615L1300 619L1255 627.6L1180 641L1127.7 648L1102 648.6L1091.6 644Z"/>
<path d="M1097.6 632L1105 620L1135 581L1153 560L1203.7 500L1301 400L1325 380L1345 360L1362.5 344L1383.6 334.6L1397 339L1412 348L1421 360L1429 372.7L1436.5 384.7L1443 400L1450.6 422.5L1456.6 452.6L1462.6 478L1463.4 502L1459.6 517L1452 540L1447 546L1438 555L1420 565.5L1397.6 577.6L1375 585L1352.5 592.6L1330 600L1300 606.6L1255 615.6L1180 630.6L1127.7 641L1108 642L1100 638Z"/>
<path d="M1113.4 624.6L1120 614L1150 578L1166.7 560L1224.8 500L1275 452.5L1323.6 405L1337 394.7L1350.6 385.7L1364 382L1378.4 379L1388 387L1398.7 397.7L1410 415L1414.5 437.6L1419 475L1417.6 497.6L1413 514L1407 527.7L1396.5 540L1387 549L1367.6 559.5L1349.5 570L1299 588L1276.4 594.5L1210 609.6L1150 626L1123 633L1115.7 630Z"/>
</g>
<g stroke="#000" stroke-width="1.5">
<path d="M1333.0 397.5L1343.0 415.0L1323.0 415.0Z" fill="#000" stroke-width="0.4"/>
<path d="M1346.0 405.0L1357.0 425.8L1335.0 425.8Z" fill="none"/>
<path d="M1374.4 405.0L1385.4 425.8L1363.4 425.8Z" fill="none"/>
<path d="M1385.0 418.0L1395.0 434.6L1375.0 434.6Z" fill="#000" stroke-width="0.4"/>
<path d="M1347.4 426.4L1358.4 445.0L1336.4 445.0Z" fill="none"/>
<path d="M1387.0 441.5L1397.0 457.8L1377.0 457.8Z" fill="#000" stroke-width="0.4"/>
<path d="M1417.0 441.0L1428.5 461.0L1405.5 461.0Z" fill="none"/>
<path d="M1305.3 449.7L1316.8 470.4L1293.8 470.4Z" fill="none"/>
<path d="M1368.7 453.4L1378.7 470.4L1358.7 470.4Z" fill="#000" stroke-width="0.4"/>
<path d="M1317.3 482.3L1327.3 498.4L1307.3 498.4Z" fill="#000" stroke-width="0.4"/>
<path d="M1358.4 484.0L1369.4 503.8L1347.4 503.8Z" fill="none"/>
<path d="M1402.0 480.4L1413.5 500.0L1390.5 500.0Z" fill="none"/>
<path d="M1308.0 493.0L1318.6 512.0L1297.4 512.0Z" fill="none"/>
<path d="M1324.8 501.3L1336.1 521.4L1313.5 521.4Z" fill="none"/>
<path d="M1347.4 503.8L1357.9 521.4L1336.9 521.4Z" fill="none"/>
<path d="M1339.2 519.0L1349.2 534.0L1329.2 534.0Z" fill="#000" stroke-width="0.4"/>
<path d="M1363.7 512.0L1373.7 529.0L1353.7 529.0Z" fill="#000" stroke-width="0.4"/>
<path d="M1383.8 524.5L1395.4 544.0L1372.2 544.0Z" fill="none"/>
<path d="M1260.8 544.0L1272.5 564.0L1249.1 564.0Z" fill="none"/>
<path d="M1335.5 560.3L1346.5 581.0L1324.5 581.0Z" fill="none"/>
<path d="M1338.6 565.4L1348.9 582.3L1328.3 582.3Z" fill="#000" stroke-width="0.4"/>
<path d="M1291.0 574.8L1302.0 594.2L1280.0 594.2Z" fill="none"/>
<path d="M1339.5 575.0L1350.5 594.2L1328.5 594.2Z" fill="none"/>
<path d="M1428.0 293.3L1437.4 308.3L1418.6 308.3Z" fill="#000" stroke-width="0.4"/>
<rect x="1352.7" y="242.7" width="15.5" height="15.5" fill="#000"/>
<rect x="1371.0" y="250.6" width="15.5" height="15.5" fill="#000"/>
<rect x="1419.8" y="238.7" width="15.5" height="15.5" fill="#000"/>
<rect x="1452.0" y="207.8" width="15.5" height="15.5" fill="#000"/>
<rect x="1453.5" y="226.0" width="16.0" height="16.0" fill="#000"/>
<rect x="1469.8" y="223.4" width="16.5" height="16.5" fill="#000"/>
<rect x="1452.2" y="249.6" width="15.5" height="15.5" fill="#000"/>
<rect x="1483.6" y="244.0" width="16.0" height="16.0" fill="#000"/>
<rect x="1472.2" y="216.0" width="16.0" height="16.0" fill="none"/>
<rect x="1446.8" y="226.4" width="15.6" height="15.6" fill="none"/>
<rect x="1432.0" y="239.2" width="15.6" height="15.6" fill="none"/>
<rect x="1477.2" y="244.8" width="15.5" height="15.5" fill="none"/>
<rect x="1459.5" y="276.8" width="16.5" height="16.5" fill="none"/>
<rect x="1443.1" y="298.5" width="17.0" height="17.0" fill="#000"/>
<rect x="1355.2" y="307.3" width="17.0" height="17.0" fill="none"/>
<rect x="1420.2" y="340.4" width="17.0" height="17.0" fill="#000"/>
<rect x="1395.5" y="356.1" width="17.0" height="17.0" fill="none"/>
<rect x="1411.5" y="398.1" width="17.0" height="17.0" fill="none"/>
<rect x="1342.2" y="459.2" width="15.6" height="15.6" fill="none"/>
<rect x="1353.8" y="458.8" width="16.5" height="16.5" fill="none"/>
</g>
<g stroke="#000" stroke-width="2" fill="none">
<path d="M990.5 44.6V800H1812.6"/>
<path d="M979 138H990.5M979 314.8H990.5M979 488.6H990.5M979 664.3H990.5"/>
<path d="M1116.9 800V810M1351.6 800V810M1586.3 800V810"/>
</g>
<g class="t" text-anchor="middle">
<text x="1107.7" y="846">-25</text>
<text x="1342.8" y="846">-20</text>
<text x="1577.4" y="846">-15</text>
</g>
<!-- colour bar -->
<rect x="1935.2" y="61" width="59.5" height="710.7" fill="url(#cbg)"/>
<path d="M1927.2 67.7H1935.2M1927.2 205H1935.2M1927.2 350.5H1935.2M1927.2 492.3H1935.2M1927.2 632.5H1935.2M1927.2 769H1935.2" stroke="#000" stroke-width="2" fill="none"/>
<g class="cb">
<text x="1866.6" y="77.6" textLength="38.6" lengthAdjust="spacingAndGlyphs">1.0</text>
<text x="1865.6" y="214.5" textLength="39.8" lengthAdjust="spacingAndGlyphs">0.8</text>
<text x="1865.6" y="359.8" textLength="39.8" lengthAdjust="spacingAndGlyphs">0.6</text>
<text x="1865.6" y="501.8" textLength="39.8" lengthAdjust="spacingAndGlyphs">0.4</text>
<text x="1865.6" y="642.0" textLength="39.8" lengthAdjust="spacingAndGlyphs">0.2</text>
<text x="1865.6" y="778.5" textLength="39.8" lengthAdjust="spacingAndGlyphs">0.0</text>
</g>
</svg>
</body></html>
